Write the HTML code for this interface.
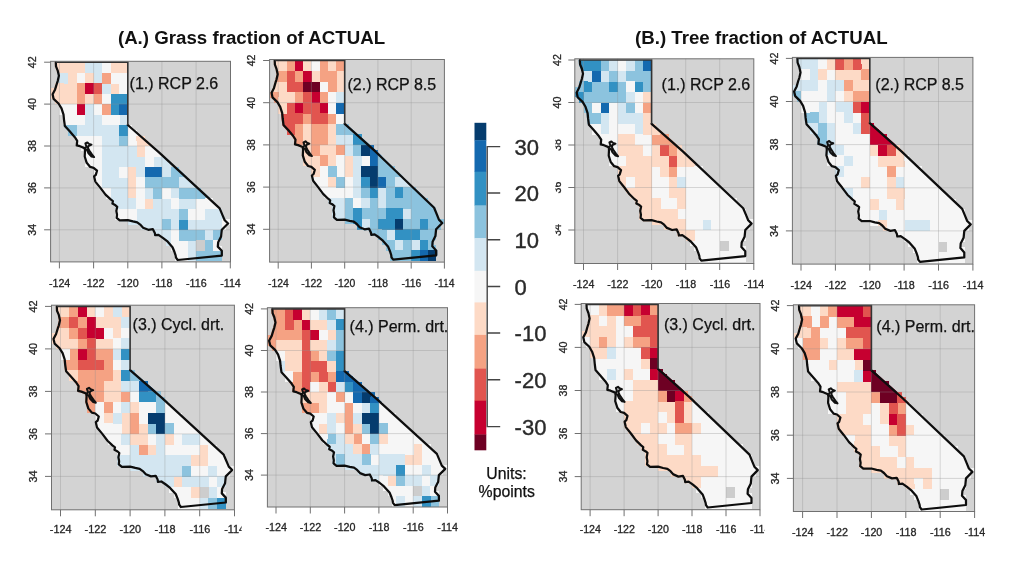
<!DOCTYPE html>
<html lang="en"><head><meta charset="utf-8"><title>Grass and tree fraction maps</title>
<style>html,body{margin:0;padding:0;background:#fff}body{width:1026px;height:565px;overflow:hidden}svg{display:block}text{font-family:"Liberation Sans",Arial,Helvetica,sans-serif}.k{stroke:#262626;stroke-width:.3px}.cb{stroke:#2a2a2a;stroke-width:.4px}.pl{stroke:#111;stroke-width:.25px}</style></head><body>
<svg width="1026" height="565" viewBox="0 0 1026 565">
<rect width="1026" height="565" fill="#fff"/>
<text x="251.5" y="44" text-anchor="middle" font-size="18.7" font-weight="bold" fill="#111">(A.) Grass fraction of ACTUAL</text>
<text x="761.3" y="43.6" text-anchor="middle" font-size="18.7" font-weight="bold" fill="#111">(B.) Tree fraction of ACTUAL</text>
<g font-size="10.69" fill="#262626">
<rect x="50.6" y="61.3" width="179.9" height="200.6" fill="#d3d3d3"/>
<mask id="m1" maskUnits="userSpaceOnUse" x="50.6" y="61.3" width="179.9" height="200.6"><path d="M55.8 62.2L56.0 66.4L57.7 70.6L58.9 75.8L57.7 81.1L56.7 84.2L55.1 89.4L52.6 94.3L53.6 98.9L58.5 103.5L61.5 108.3L63.5 114.6L64.0 119.8L64.9 126.1L69.7 131.3L74.8 137.2L77.2 140.8L76.7 145.4L79.9 146.2L84.5 148.1L85.0 150.6L84.7 156.5L86.7 162.8L90.2 166.9L93.6 167.8L97.0 170.7L95.8 174.9L94.1 176.4L95.3 181.6L100.4 187.9L105.5 194.6L110.7 199.4L112.9 201.1L112.4 203.6L115.5 205.3L117.2 206.8L116.3 210.9L117.0 214.7L116.7 217.9L119.7 220.4L127.8 220.2L132.9 221.4L137.2 222.3L140.2 224.6L143.1 227.7L148.3 229.8L152.9 229.2L154.8 232.9L155.1 235.2L158.5 234.8L162.8 237.8L167.1 241.1L172.5 247.2L174.4 251.8L175.6 255.4L176.0 257.7L177.7 260.0L221.8 255.6L221.8 250.8L217.8 246.6L218.2 242.2L221.1 236.5L221.8 229.8L228.1 223.5L224.7 220.2L222.4 214.9L219.7 208.4L159.0 152.3L127.8 125.0L127.8 62.2Z" fill="#fff" stroke="#fff" stroke-width="2.4" stroke-linejoin="round"/></mask>
<g mask="url(#m1)" shape-rendering="crispEdges">
<path fill="#fddac6" d="M50.9 62.2h34.5v10.8h-34.5zM110.7 62.2h17.4v10.8h-17.4zM67.9 72.7h8.8v10.8h-8.8zM85.0 72.7h8.8v10.8h-8.8zM50.9 83.2h25.9v10.8h-25.9zM110.7 83.2h8.8v10.8h-8.8zM50.9 93.6h25.9v10.8h-25.9zM85.0 93.6h8.8v10.8h-8.8zM136.3 135.5h17.4v10.8h-17.4zM136.3 146.0h8.8v10.8h-8.8zM127.8 166.9h8.8v10.8h-8.8zM127.8 177.4h8.8v10.8h-8.8zM127.8 187.9h8.8v10.8h-8.8zM144.8 198.4h8.8v10.8h-8.8z"/>
<path fill="#d3e6f1" d="M85.0 62.2h17.4v10.8h-17.4zM50.9 72.7h17.4v10.8h-17.4zM93.6 72.7h8.8v10.8h-8.8zM102.1 83.2h8.8v10.8h-8.8zM85.0 104.1h8.8v10.8h-8.8zM85.0 114.6h17.4v10.8h-17.4zM119.2 114.6h8.8v10.8h-8.8zM76.5 125.0h43.0v10.8h-43.0zM102.1 135.5h17.4v10.8h-17.4zM102.1 146.0h34.5v10.8h-34.5zM102.1 156.5h43.0v10.8h-43.0zM153.4 156.5h17.4v10.8h-17.4zM102.1 166.9h17.4v10.8h-17.4zM136.3 166.9h8.8v10.8h-8.8zM161.9 166.9h8.8v10.8h-8.8zM102.1 177.4h25.9v10.8h-25.9zM179.0 177.4h17.4v10.8h-17.4zM110.7 187.9h17.4v10.8h-17.4zM144.8 187.9h8.8v10.8h-8.8zM170.5 187.9h8.8v10.8h-8.8zM110.7 198.4h25.9v10.8h-25.9zM153.4 198.4h17.4v10.8h-17.4zM179.0 198.4h17.4v10.8h-17.4zM136.3 208.9h43.0v10.8h-43.0zM204.7 208.9h25.9v10.8h-25.9zM119.2 219.3h43.0v10.8h-43.0zM170.5 219.3h8.8v10.8h-8.8zM187.6 219.3h34.5v10.8h-34.5zM127.8 229.8h43.0v10.8h-43.0zM204.7 229.8h8.8v10.8h-8.8zM144.8 240.3h25.9v10.8h-25.9zM187.6 240.3h8.8v10.8h-8.8zM187.6 250.8h8.8v10.8h-8.8z"/>
<path fill="#f6f6f6" d="M102.1 62.2h8.8v10.8h-8.8zM76.5 72.7h8.8v10.8h-8.8zM110.7 72.7h17.4v10.8h-17.4zM119.2 83.2h8.8v10.8h-8.8zM102.1 93.6h8.8v10.8h-8.8zM50.9 104.1h25.9v10.8h-25.9zM93.6 104.1h8.8v10.8h-8.8zM59.4 114.6h25.9v10.8h-25.9zM102.1 114.6h17.4v10.8h-17.4zM127.8 125.0h17.4v10.8h-17.4zM67.9 135.5h34.5v10.8h-34.5zM127.8 135.5h8.8v10.8h-8.8zM67.9 146.0h34.5v10.8h-34.5zM144.8 146.0h17.4v10.8h-17.4zM76.5 156.5h25.9v10.8h-25.9zM144.8 156.5h8.8v10.8h-8.8zM76.5 166.9h25.9v10.8h-25.9zM119.2 166.9h8.8v10.8h-8.8zM85.0 177.4h17.4v10.8h-17.4zM136.3 177.4h8.8v10.8h-8.8zM85.0 187.9h25.9v10.8h-25.9zM136.3 187.9h8.8v10.8h-8.8zM161.9 187.9h8.8v10.8h-8.8zM93.6 198.4h17.4v10.8h-17.4zM136.3 198.4h8.8v10.8h-8.8zM170.5 198.4h8.8v10.8h-8.8zM196.1 198.4h25.9v10.8h-25.9zM102.1 208.9h34.5v10.8h-34.5zM187.6 208.9h17.4v10.8h-17.4zM102.1 219.3h17.4v10.8h-17.4zM221.8 219.3h8.8v10.8h-8.8zM110.7 229.8h17.4v10.8h-17.4zM170.5 229.8h8.8v10.8h-8.8zM221.8 229.8h8.8v10.8h-8.8zM170.5 240.3h17.4v10.8h-17.4zM213.2 240.3h17.4v10.8h-17.4zM153.4 250.8h34.5v10.8h-34.5z"/>
<path fill="#f5a283" d="M102.1 72.7h8.8v10.8h-8.8zM76.5 83.2h8.8v10.8h-8.8zM76.5 93.6h8.8v10.8h-8.8zM93.6 93.6h8.8v10.8h-8.8zM102.1 104.1h8.8v10.8h-8.8z"/>
<path fill="#c60030" d="M85.0 83.2h8.8v10.8h-8.8zM76.5 104.1h8.8v10.8h-8.8z"/>
<path fill="#e1554f" d="M93.6 83.2h8.8v10.8h-8.8z"/>
<path fill="#3291c3" d="M110.7 93.6h17.4v10.8h-17.4zM110.7 104.1h8.8v10.8h-8.8zM119.2 125.0h8.8v10.8h-8.8zM179.0 219.3h8.8v10.8h-8.8z"/>
<path fill="#1469af" d="M119.2 104.1h8.8v10.8h-8.8zM144.8 166.9h17.4v10.8h-17.4z"/>
<path fill="#8cc3de" d="M59.4 125.0h17.4v10.8h-17.4zM119.2 135.5h8.8v10.8h-8.8zM170.5 166.9h17.4v10.8h-17.4zM144.8 177.4h34.5v10.8h-34.5zM153.4 187.9h8.8v10.8h-8.8zM179.0 187.9h34.5v10.8h-34.5zM179.0 208.9h8.8v10.8h-8.8zM161.9 219.3h8.8v10.8h-8.8zM179.0 229.8h25.9v10.8h-25.9zM213.2 229.8h8.8v10.8h-8.8zM204.7 240.3h8.8v10.8h-8.8zM196.1 250.8h34.5v10.8h-34.5z"/>
<path fill="#cdcdcd" d="M196.1 240.3h8.8v10.8h-8.8z"/>
</g>
<g shape-rendering="crispEdges">
<path fill="#fddac6" d="M59.4 62.2h4.5v5.4h-4.5zM63.7 62.2h4.5v5.4h-4.5zM59.4 67.4h4.5v5.4h-4.5zM67.9 62.2h4.5v5.4h-4.5zM72.2 62.2h4.5v5.4h-4.5zM76.5 62.2h4.5v5.4h-4.5zM80.8 62.2h4.5v5.4h-4.5zM110.7 62.2h4.5v5.4h-4.5zM114.9 62.2h4.5v5.4h-4.5zM119.2 62.2h4.5v5.4h-4.5zM123.5 62.2h4.5v5.4h-4.5zM123.5 67.4h4.5v5.4h-4.5zM55.1 83.2h4.5v5.4h-4.5zM50.9 88.4h4.5v5.4h-4.5zM55.1 88.4h4.5v5.4h-4.5zM59.4 83.2h4.5v5.4h-4.5zM50.9 93.6h4.5v5.4h-4.5zM55.1 93.6h4.5v5.4h-4.5zM55.1 98.9h4.5v5.4h-4.5zM59.4 98.9h4.5v5.4h-4.5zM136.3 135.5h4.5v5.4h-4.5zM140.6 135.5h4.5v5.4h-4.5zM140.6 140.8h4.5v5.4h-4.5z"/>
<path fill="#d3e6f1" d="M85.0 62.2h4.5v5.4h-4.5zM89.3 62.2h4.5v5.4h-4.5zM93.6 62.2h4.5v5.4h-4.5zM97.9 62.2h4.5v5.4h-4.5zM59.4 72.7h4.5v5.4h-4.5zM59.4 77.9h4.5v5.4h-4.5zM123.5 114.6h4.5v5.4h-4.5zM123.5 119.8h4.5v5.4h-4.5zM157.7 156.5h4.5v5.4h-4.5zM102.1 182.7h4.5v5.4h-4.5zM179.0 177.4h4.5v5.4h-4.5zM183.3 177.4h4.5v5.4h-4.5zM110.7 193.1h4.5v5.4h-4.5zM110.7 198.4h4.5v5.4h-4.5zM114.9 198.4h4.5v5.4h-4.5zM114.9 203.6h4.5v5.4h-4.5zM119.2 203.6h4.5v5.4h-4.5zM213.2 208.9h4.5v5.4h-4.5zM217.5 208.9h4.5v5.4h-4.5zM217.5 214.1h4.5v5.4h-4.5zM127.8 219.3h4.5v5.4h-4.5zM132.0 219.3h4.5v5.4h-4.5zM136.3 219.3h4.5v5.4h-4.5zM140.6 219.3h4.5v5.4h-4.5zM140.6 224.6h4.5v5.4h-4.5zM144.8 224.6h4.5v5.4h-4.5zM149.1 224.6h4.5v5.4h-4.5zM153.4 224.6h4.5v5.4h-4.5zM217.5 219.3h4.5v5.4h-4.5zM217.5 224.6h4.5v5.4h-4.5zM153.4 229.8h4.5v5.4h-4.5zM157.7 229.8h4.5v5.4h-4.5zM161.9 229.8h4.5v5.4h-4.5zM161.9 235.0h4.5v5.4h-4.5zM166.2 235.0h4.5v5.4h-4.5zM166.2 240.3h4.5v5.4h-4.5zM187.6 250.8h4.5v5.4h-4.5zM191.8 250.8h4.5v5.4h-4.5zM187.6 256.0h4.5v5.4h-4.5zM191.8 256.0h4.5v5.4h-4.5z"/>
<path fill="#f6f6f6" d="M102.1 62.2h4.5v5.4h-4.5zM106.4 62.2h4.5v5.4h-4.5zM123.5 72.7h4.5v5.4h-4.5zM123.5 77.9h4.5v5.4h-4.5zM123.5 83.2h4.5v5.4h-4.5zM123.5 88.4h4.5v5.4h-4.5zM59.4 104.1h4.5v5.4h-4.5zM63.7 104.1h4.5v5.4h-4.5zM59.4 109.3h4.5v5.4h-4.5zM63.7 109.3h4.5v5.4h-4.5zM127.8 125.0h4.5v5.4h-4.5zM127.8 130.3h4.5v5.4h-4.5zM132.0 130.3h4.5v5.4h-4.5zM76.5 135.5h4.5v5.4h-4.5zM76.5 140.8h4.5v5.4h-4.5zM80.8 140.8h4.5v5.4h-4.5zM85.0 140.8h4.5v5.4h-4.5zM80.8 146.0h4.5v5.4h-4.5zM85.0 146.0h4.5v5.4h-4.5zM85.0 151.2h4.5v5.4h-4.5zM144.8 146.0h4.5v5.4h-4.5zM149.1 146.0h4.5v5.4h-4.5zM85.0 156.5h4.5v5.4h-4.5zM85.0 161.7h4.5v5.4h-4.5zM89.3 161.7h4.5v5.4h-4.5zM93.6 161.7h4.5v5.4h-4.5zM93.6 166.9h4.5v5.4h-4.5zM97.9 166.9h4.5v5.4h-4.5zM93.6 172.2h4.5v5.4h-4.5zM97.9 172.2h4.5v5.4h-4.5zM93.6 177.4h4.5v5.4h-4.5zM97.9 177.4h4.5v5.4h-4.5zM97.9 182.7h4.5v5.4h-4.5zM102.1 187.9h4.5v5.4h-4.5zM106.4 187.9h4.5v5.4h-4.5zM106.4 193.1h4.5v5.4h-4.5zM204.7 198.4h4.5v5.4h-4.5zM208.9 198.4h4.5v5.4h-4.5zM208.9 203.6h4.5v5.4h-4.5zM114.9 208.9h4.5v5.4h-4.5zM114.9 214.1h4.5v5.4h-4.5zM119.2 208.9h4.5v5.4h-4.5zM119.2 214.1h4.5v5.4h-4.5zM123.5 214.1h4.5v5.4h-4.5zM127.8 214.1h4.5v5.4h-4.5zM132.0 214.1h4.5v5.4h-4.5zM221.8 219.3h4.5v5.4h-4.5zM226.0 219.3h4.5v5.4h-4.5zM221.8 224.6h4.5v5.4h-4.5zM170.5 240.3h4.5v5.4h-4.5zM170.5 245.5h4.5v5.4h-4.5zM174.8 245.5h4.5v5.4h-4.5zM213.2 240.3h4.5v5.4h-4.5zM213.2 245.5h4.5v5.4h-4.5zM217.5 245.5h4.5v5.4h-4.5zM174.8 250.8h4.5v5.4h-4.5zM174.8 256.0h4.5v5.4h-4.5zM179.0 256.0h4.5v5.4h-4.5zM183.3 256.0h4.5v5.4h-4.5z"/>
<path fill="#3291c3" d="M123.5 93.6h4.5v5.4h-4.5zM123.5 98.9h4.5v5.4h-4.5zM123.5 125.0h4.5v5.4h-4.5z"/>
<path fill="#1469af" d="M123.5 104.1h4.5v5.4h-4.5zM123.5 109.3h4.5v5.4h-4.5z"/>
<path fill="#8cc3de" d="M67.9 125.0h4.5v5.4h-4.5zM67.9 130.3h4.5v5.4h-4.5zM72.2 130.3h4.5v5.4h-4.5zM170.5 166.9h4.5v5.4h-4.5zM174.8 166.9h4.5v5.4h-4.5zM174.8 172.2h4.5v5.4h-4.5zM191.8 187.9h4.5v5.4h-4.5zM196.1 187.9h4.5v5.4h-4.5zM196.1 193.1h4.5v5.4h-4.5zM200.4 193.1h4.5v5.4h-4.5zM217.5 229.8h4.5v5.4h-4.5zM213.2 235.0h4.5v5.4h-4.5zM217.5 235.0h4.5v5.4h-4.5zM196.1 250.8h4.5v5.4h-4.5zM200.4 250.8h4.5v5.4h-4.5zM196.1 256.0h4.5v5.4h-4.5zM200.4 256.0h4.5v5.4h-4.5zM204.7 250.8h4.5v5.4h-4.5zM208.9 250.8h4.5v5.4h-4.5zM204.7 256.0h4.5v5.4h-4.5zM208.9 256.0h4.5v5.4h-4.5zM213.2 250.8h4.5v5.4h-4.5zM217.5 250.8h4.5v5.4h-4.5zM213.2 256.0h4.5v5.4h-4.5zM217.5 256.0h4.5v5.4h-4.5z"/>
</g>
<path d="M59.4 61.3V261.9M93.6 61.3V261.9M127.8 61.3V261.9M161.9 61.3V261.9M196.1 61.3V261.9M50.6 229.8H230.5M50.6 187.9H230.5M50.6 146.0H230.5M50.6 104.1H230.5" stroke="#909090" stroke-opacity="0.42" stroke-width="0.8" fill="none"/>
<path d="M55.8 62.2L56.0 66.4L57.7 70.6L58.9 75.8L57.7 81.1L56.7 84.2L55.1 89.4L52.6 94.3L53.6 98.9L58.5 103.5L61.5 108.3L63.5 114.6L64.0 119.8L64.9 126.1L69.7 131.3L74.8 137.2L77.2 140.8L76.7 145.4L79.9 146.2L84.5 148.1L85.0 150.6L84.7 156.5L86.7 162.8L90.2 166.9L93.6 167.8L97.0 170.7L95.8 174.9L94.1 176.4L95.3 181.6L100.4 187.9L105.5 194.6L110.7 199.4L112.9 201.1L112.4 203.6L115.5 205.3L117.2 206.8L116.3 210.9L117.0 214.7L116.7 217.9L119.7 220.4L127.8 220.2L132.9 221.4L137.2 222.3L140.2 224.6L143.1 227.7L148.3 229.8L152.9 229.2L154.8 232.9L155.1 235.2L158.5 234.8L162.8 237.8L167.1 241.1L172.5 247.2L174.4 251.8L175.6 255.4L176.0 257.7L177.7 260.0L221.8 255.6L221.8 250.8L217.8 246.6L218.2 242.2L221.1 236.5L221.8 229.8L228.1 223.5L224.7 220.2L222.4 214.9L219.7 208.4L159.0 152.3L127.8 125.0" stroke="#0d0d0d" stroke-width="2.25" fill="none" stroke-linejoin="round" stroke-linecap="round"/>
<path d="M127.8 125.0L127.8 62.2L55.8 62.2" stroke="#333" stroke-width="1.6" fill="none" stroke-linejoin="miter"/>
<path d="M85.0 148.9L86.4 146.4L85.4 143.5L87.4 142.4L89.0 143.9L91.5 144.7L88.5 146.0L87.9 148.1L89.3 150.6L91.9 154.4L94.1 157.1L91.5 156.5L88.5 153.3L87.1 150.2L85.0 148.9" stroke="#111" stroke-width="2" fill="none" stroke-linejoin="round"/>
<rect x="50.6" y="61.3" width="179.9" height="200.6" fill="none" stroke="#707070" stroke-width="1"/>
<path d="M59.4 261.9v6.5M93.6 261.9v6.5M127.8 261.9v6.5M161.9 261.9v6.5M196.1 261.9v6.5M230.3 261.9v6.5M50.6 229.8h-6.5M50.6 187.9h-6.5M50.6 146.0h-6.5M50.6 104.1h-6.5M50.6 62.2h-6.5" stroke="#707070" stroke-width="1" fill="none"/>
<clipPath id="b1"><rect x="50.6" y="61.3" width="179.9" height="200.6"/></clipPath>
<text x="59.6" y="287.4" class="k" text-anchor="middle">-124</text>
<text x="93.8" y="287.4" class="k" text-anchor="middle">-122</text>
<text x="128.0" y="287.4" class="k" text-anchor="middle">-120</text>
<text x="162.1" y="287.4" class="k" text-anchor="middle">-118</text>
<text x="196.3" y="287.4" class="k" text-anchor="middle">-116</text>
<text x="230.5" y="287.4" class="k" text-anchor="middle">-114</text>
<text transform="translate(36.3 229.8) rotate(-90)" class="k" text-anchor="middle">34</text>
<text transform="translate(36.3 187.9) rotate(-90)" class="k" text-anchor="middle">36</text>
<text transform="translate(36.3 146.0) rotate(-90)" class="k" text-anchor="middle">38</text>
<text transform="translate(36.3 104.1) rotate(-90)" class="k" text-anchor="middle">40</text>
<text transform="translate(36.3 62.2) rotate(-90)" class="k" text-anchor="middle">42</text>
<text x="129.6" y="89" font-size="16" fill="#111" class="pl" clip-path="url(#b1)">(1.) RCP 2.6</text>
</g>
<g font-size="10.40" fill="#262626">
<rect x="269.6" y="59.5" width="174.8" height="202.6" fill="#d3d3d3"/>
<mask id="m2" maskUnits="userSpaceOnUse" x="269.6" y="59.5" width="174.8" height="202.6"><path d="M274.7 60.5L274.9 64.7L276.5 68.9L277.7 74.2L276.5 79.5L275.5 82.7L274.0 87.9L271.6 92.8L272.5 97.4L277.4 102.1L280.2 106.9L282.2 113.2L282.7 118.5L283.5 124.9L288.2 130.1L293.2 136.0L295.5 139.6L295.0 144.3L298.1 145.1L302.6 147.0L303.1 149.5L302.8 155.4L304.8 161.8L308.1 166.0L311.4 166.8L314.8 169.8L313.6 174.0L311.9 175.5L313.1 180.8L318.1 187.1L323.1 193.9L328.1 198.7L330.2 200.4L329.7 202.9L332.7 204.6L334.4 206.1L333.5 210.3L334.2 214.1L333.9 217.3L336.9 219.8L344.7 219.6L349.7 220.9L353.8 221.7L356.8 224.0L359.6 227.2L364.6 229.3L369.1 228.7L370.9 232.5L371.3 234.8L374.6 234.4L378.8 237.3L382.9 240.7L388.2 246.8L390.1 251.5L391.2 255.0L391.5 257.4L393.2 259.7L436.1 255.3L436.1 250.4L432.3 246.2L432.6 241.7L435.4 236.1L436.1 229.3L442.2 223.0L438.9 219.6L436.8 214.3L434.1 207.8L375.1 151.2L344.7 123.8L344.7 60.5Z" fill="#fff" stroke="#fff" stroke-width="2.4" stroke-linejoin="round"/></mask>
<g mask="url(#m2)" shape-rendering="crispEdges">
<path fill="#fddac6" d="M269.9 60.5h16.9v10.8h-16.9zM303.1 60.5h8.6v10.8h-8.6zM328.1 60.5h8.6v10.8h-8.6zM311.4 71.0h8.6v10.8h-8.6zM336.4 71.0h8.6v10.8h-8.6zM269.9 81.6h16.9v10.8h-16.9zM336.4 81.6h8.6v10.8h-8.6zM278.2 92.2h16.9v10.8h-16.9zM269.9 102.7h16.9v10.8h-16.9zM303.1 123.8h8.6v10.9h-8.6zM328.1 123.8h8.6v10.9h-8.6zM303.1 134.4h8.6v10.9h-8.6zM328.1 134.4h8.6v10.9h-8.6zM294.8 144.9h16.9v10.9h-16.9zM319.8 144.9h16.9v10.9h-16.9zM294.8 155.4h25.2v10.9h-25.2zM328.1 155.4h8.6v10.9h-8.6zM344.7 155.4h8.6v10.9h-8.6zM303.1 166.0h16.9v10.9h-16.9zM344.7 166.0h8.6v10.9h-8.6zM328.1 176.6h8.6v10.9h-8.6z"/>
<path fill="#f5a283" d="M286.5 60.5h8.6v10.8h-8.6zM319.8 60.5h8.6v10.8h-8.6zM336.4 60.5h8.6v10.8h-8.6zM269.9 71.0h16.9v10.8h-16.9zM294.8 71.0h8.6v10.8h-8.6zM319.8 71.0h16.9v10.8h-16.9zM328.1 81.6h8.6v10.8h-8.6zM269.9 92.2h8.6v10.8h-8.6zM294.8 92.2h8.6v10.8h-8.6zM319.8 92.2h8.6v10.8h-8.6zM303.1 113.2h8.6v10.8h-8.6zM328.1 113.2h8.6v10.8h-8.6zM294.8 123.8h8.6v10.9h-8.6zM311.4 123.8h16.9v10.9h-16.9zM286.5 134.4h16.9v10.9h-16.9zM311.4 134.4h16.9v10.9h-16.9zM311.4 144.9h8.6v10.9h-8.6zM336.4 144.9h8.6v10.9h-8.6zM319.8 155.4h8.6v10.9h-8.6z"/>
<path fill="#c60030" d="M294.8 60.5h8.6v10.8h-8.6zM303.1 71.0h8.6v10.8h-8.6zM311.4 92.2h8.6v10.8h-8.6zM294.8 102.7h8.6v10.8h-8.6zM319.8 102.7h8.6v10.8h-8.6z"/>
<path fill="#f6f6f6" d="M311.4 60.5h8.6v10.8h-8.6zM319.8 81.6h8.6v10.8h-8.6zM328.1 92.2h8.6v10.8h-8.6zM328.1 102.7h8.6v10.8h-8.6zM336.4 113.2h8.6v10.8h-8.6zM336.4 155.4h8.6v10.9h-8.6zM361.3 155.4h8.6v10.9h-8.6zM319.8 166.0h8.6v10.9h-8.6zM336.4 166.0h8.6v10.9h-8.6zM303.1 176.6h25.2v10.9h-25.2zM344.7 176.6h8.6v10.9h-8.6zM311.4 187.1h41.9v10.9h-41.9zM311.4 197.7h16.9v10.9h-16.9zM353.0 197.7h8.6v10.9h-8.6z"/>
<path fill="#e1554f" d="M286.5 71.0h8.6v10.8h-8.6zM286.5 81.6h16.9v10.8h-16.9zM303.1 92.2h8.6v10.8h-8.6zM286.5 102.7h8.6v10.8h-8.6zM303.1 102.7h16.9v10.8h-16.9zM278.2 113.2h25.2v10.8h-25.2zM311.4 113.2h16.9v10.8h-16.9zM278.2 123.8h16.9v10.9h-16.9z"/>
<path fill="#6e0023" d="M303.1 81.6h16.9v10.8h-16.9z"/>
<path fill="#d3e6f1" d="M336.4 92.2h8.6v10.8h-8.6zM336.4 134.4h16.9v10.9h-16.9zM344.7 144.9h8.6v10.9h-8.6zM353.0 155.4h8.6v10.9h-8.6zM353.0 166.0h8.6v10.9h-8.6zM353.0 176.6h8.6v10.9h-8.6zM394.5 176.6h16.9v10.9h-16.9zM353.0 187.1h8.6v10.9h-8.6zM377.9 187.1h8.6v10.9h-8.6zM328.1 197.7h16.9v10.9h-16.9zM361.3 197.7h8.6v10.9h-8.6zM377.9 197.7h8.6v10.9h-8.6zM319.8 208.2h25.2v10.9h-25.2zM402.9 208.2h8.6v10.9h-8.6zM319.8 218.8h25.2v10.9h-25.2zM361.3 218.8h8.6v10.9h-8.6zM328.1 229.3h25.2v10.9h-25.2zM386.2 229.3h8.6v10.9h-8.6zM394.5 239.9h8.6v10.9h-8.6zM411.2 239.9h8.6v10.9h-8.6z"/>
<path fill="#1469af" d="M336.4 102.7h8.6v10.8h-8.6zM369.6 144.9h16.9v10.9h-16.9zM369.6 155.4h8.6v10.9h-8.6zM377.9 176.6h8.6v10.9h-8.6zM419.5 250.4h8.6v10.8h-8.6z"/>
<path fill="#8cc3de" d="M336.4 123.8h25.2v10.9h-25.2zM353.0 144.9h8.6v10.9h-8.6zM377.9 155.4h16.9v10.9h-16.9zM328.1 166.0h8.6v10.9h-8.6zM377.9 166.0h25.2v10.9h-25.2zM336.4 176.6h8.6v10.9h-8.6zM386.2 176.6h8.6v10.9h-8.6zM361.3 187.1h8.6v10.9h-8.6zM386.2 187.1h8.6v10.9h-8.6zM402.9 187.1h25.2v10.9h-25.2zM344.7 197.7h8.6v10.9h-8.6zM369.6 197.7h8.6v10.9h-8.6zM386.2 197.7h50.2v10.9h-50.2zM344.7 208.2h8.6v10.9h-8.6zM361.3 208.2h25.2v10.9h-25.2zM411.2 208.2h33.5v10.9h-33.5zM344.7 218.8h8.6v10.9h-8.6zM369.6 218.8h8.6v10.9h-8.6zM402.9 218.8h16.9v10.9h-16.9zM427.8 218.8h16.9v10.9h-16.9zM353.0 229.3h33.5v10.9h-33.5zM419.5 229.3h25.2v10.9h-25.2zM361.3 239.9h33.5v10.9h-33.5zM402.9 239.9h8.6v10.9h-8.6zM427.8 239.9h16.9v10.9h-16.9zM369.6 250.4h41.9v10.8h-41.9z"/>
<path fill="#3291c3" d="M353.0 134.4h16.9v10.9h-16.9zM361.3 176.6h8.6v10.9h-8.6zM369.6 187.1h8.6v10.9h-8.6zM394.5 187.1h8.6v10.9h-8.6zM353.0 208.2h8.6v10.9h-8.6zM386.2 208.2h16.9v10.9h-16.9zM353.0 218.8h8.6v10.9h-8.6zM377.9 218.8h16.9v10.9h-16.9zM419.5 218.8h8.6v10.9h-8.6zM394.5 229.3h25.2v10.9h-25.2zM419.5 239.9h8.6v10.9h-8.6zM411.2 250.4h8.6v10.8h-8.6z"/>
<path fill="#053c6e" d="M361.3 144.9h8.6v10.9h-8.6zM361.3 166.0h16.9v10.9h-16.9zM369.6 176.6h8.6v10.9h-8.6zM394.5 218.8h8.6v10.9h-8.6zM427.8 250.4h16.9v10.8h-16.9z"/>
</g>
<g shape-rendering="crispEdges">
<path fill="#fddac6" d="M278.2 60.5h4.4v5.5h-4.4zM282.4 60.5h4.4v5.5h-4.4zM278.2 65.8h4.4v5.5h-4.4zM303.1 60.5h4.4v5.5h-4.4zM307.3 60.5h4.4v5.5h-4.4zM328.1 60.5h4.4v5.5h-4.4zM332.2 60.5h4.4v5.5h-4.4zM340.5 71.0h4.4v5.5h-4.4zM340.5 76.3h4.4v5.5h-4.4zM278.2 81.6h4.4v5.5h-4.4zM340.5 81.6h4.4v5.5h-4.4zM340.5 86.9h4.4v5.5h-4.4zM278.2 97.4h4.4v5.5h-4.4zM278.2 102.7h4.4v5.5h-4.4zM282.4 102.7h4.4v5.5h-4.4zM278.2 108.0h4.4v5.5h-4.4zM282.4 108.0h4.4v5.5h-4.4zM303.1 139.6h4.4v5.5h-4.4zM303.1 144.9h4.4v5.5h-4.4zM303.1 150.2h4.4v5.5h-4.4zM303.1 155.4h4.4v5.5h-4.4zM307.3 155.4h4.4v5.5h-4.4zM303.1 160.7h4.4v5.5h-4.4zM307.3 160.7h4.4v5.5h-4.4zM311.4 160.7h4.4v5.5h-4.4zM311.4 166.0h4.4v5.5h-4.4zM315.6 166.0h4.4v5.5h-4.4zM311.4 171.3h4.4v5.5h-4.4zM315.6 171.3h4.4v5.5h-4.4z"/>
<path fill="#f5a283" d="M286.5 60.5h4.4v5.5h-4.4zM290.7 60.5h4.4v5.5h-4.4zM319.8 60.5h4.4v5.5h-4.4zM323.9 60.5h4.4v5.5h-4.4zM336.4 60.5h4.4v5.5h-4.4zM340.5 60.5h4.4v5.5h-4.4zM340.5 65.8h4.4v5.5h-4.4zM278.2 71.0h4.4v5.5h-4.4zM278.2 76.3h4.4v5.5h-4.4zM269.9 92.2h4.4v5.5h-4.4zM274.0 92.2h4.4v5.5h-4.4zM274.0 97.4h4.4v5.5h-4.4zM294.8 134.4h4.4v5.5h-4.4zM294.8 139.6h4.4v5.5h-4.4zM299.0 139.6h4.4v5.5h-4.4z"/>
<path fill="#c60030" d="M294.8 60.5h4.4v5.5h-4.4zM299.0 60.5h4.4v5.5h-4.4z"/>
<path fill="#f6f6f6" d="M311.4 60.5h4.4v5.5h-4.4zM315.6 60.5h4.4v5.5h-4.4zM340.5 113.2h4.4v5.5h-4.4zM340.5 118.5h4.4v5.5h-4.4zM311.4 176.6h4.4v5.5h-4.4zM315.6 176.6h4.4v5.5h-4.4zM315.6 181.8h4.4v5.5h-4.4zM319.8 181.8h4.4v5.5h-4.4zM319.8 187.1h4.4v5.5h-4.4zM323.9 187.1h4.4v5.5h-4.4zM323.9 192.4h4.4v5.5h-4.4zM328.1 192.4h4.4v5.5h-4.4z"/>
<path fill="#d3e6f1" d="M340.5 92.2h4.4v5.5h-4.4zM340.5 97.4h4.4v5.5h-4.4zM394.5 176.6h4.4v5.5h-4.4zM398.7 176.6h4.4v5.5h-4.4zM328.1 197.7h4.4v5.5h-4.4zM332.2 197.7h4.4v5.5h-4.4zM332.2 202.9h4.4v5.5h-4.4zM336.4 202.9h4.4v5.5h-4.4zM332.2 208.2h4.4v5.5h-4.4zM332.2 213.5h4.4v5.5h-4.4zM336.4 208.2h4.4v5.5h-4.4zM336.4 213.5h4.4v5.5h-4.4zM340.5 213.5h4.4v5.5h-4.4zM361.3 224.0h4.4v5.5h-4.4zM365.5 224.0h4.4v5.5h-4.4z"/>
<path fill="#1469af" d="M340.5 102.7h4.4v5.5h-4.4zM340.5 108.0h4.4v5.5h-4.4zM369.6 144.9h4.4v5.5h-4.4zM369.6 150.2h4.4v5.5h-4.4zM373.8 150.2h4.4v5.5h-4.4zM373.8 155.4h4.4v5.5h-4.4zM419.5 250.4h4.4v5.5h-4.4zM423.6 250.4h4.4v5.5h-4.4zM419.5 255.7h4.4v5.5h-4.4zM423.6 255.7h4.4v5.5h-4.4z"/>
<path fill="#e1554f" d="M286.5 123.8h4.4v5.5h-4.4zM286.5 129.1h4.4v5.5h-4.4zM290.7 129.1h4.4v5.5h-4.4z"/>
<path fill="#8cc3de" d="M340.5 123.8h4.4v5.5h-4.4zM344.7 123.8h4.4v5.5h-4.4zM344.7 129.1h4.4v5.5h-4.4zM348.8 129.1h4.4v5.5h-4.4zM377.9 155.4h4.4v5.5h-4.4zM377.9 160.7h4.4v5.5h-4.4zM382.1 160.7h4.4v5.5h-4.4zM386.2 166.0h4.4v5.5h-4.4zM390.4 166.0h4.4v5.5h-4.4zM390.4 171.3h4.4v5.5h-4.4zM407.0 187.1h4.4v5.5h-4.4zM411.2 187.1h4.4v5.5h-4.4zM411.2 192.4h4.4v5.5h-4.4zM415.3 192.4h4.4v5.5h-4.4zM419.5 197.7h4.4v5.5h-4.4zM423.6 197.7h4.4v5.5h-4.4zM423.6 202.9h4.4v5.5h-4.4zM344.7 213.5h4.4v5.5h-4.4zM348.8 213.5h4.4v5.5h-4.4zM427.8 208.2h4.4v5.5h-4.4zM431.9 208.2h4.4v5.5h-4.4zM431.9 213.5h4.4v5.5h-4.4zM344.7 218.8h4.4v5.5h-4.4zM348.8 218.8h4.4v5.5h-4.4zM369.6 224.0h4.4v5.5h-4.4zM431.9 218.8h4.4v5.5h-4.4zM431.9 224.0h4.4v5.5h-4.4zM436.1 218.8h4.4v5.5h-4.4zM440.2 218.8h4.4v5.5h-4.4zM436.1 224.0h4.4v5.5h-4.4zM369.6 229.3h4.4v5.5h-4.4zM373.8 229.3h4.4v5.5h-4.4zM377.9 229.3h4.4v5.5h-4.4zM377.9 234.6h4.4v5.5h-4.4zM382.1 234.6h4.4v5.5h-4.4zM431.9 229.3h4.4v5.5h-4.4zM427.8 234.6h4.4v5.5h-4.4zM431.9 234.6h4.4v5.5h-4.4zM382.1 239.9h4.4v5.5h-4.4zM386.2 239.9h4.4v5.5h-4.4zM386.2 245.1h4.4v5.5h-4.4zM390.4 245.1h4.4v5.5h-4.4zM427.8 239.9h4.4v5.5h-4.4zM427.8 245.1h4.4v5.5h-4.4zM431.9 245.1h4.4v5.5h-4.4zM390.4 250.4h4.4v5.5h-4.4zM390.4 255.7h4.4v5.5h-4.4zM394.5 255.7h4.4v5.5h-4.4zM398.7 255.7h4.4v5.5h-4.4zM402.9 250.4h4.4v5.5h-4.4zM407.0 250.4h4.4v5.5h-4.4zM402.9 255.7h4.4v5.5h-4.4zM407.0 255.7h4.4v5.5h-4.4z"/>
<path fill="#3291c3" d="M353.0 134.4h4.4v5.5h-4.4zM357.1 134.4h4.4v5.5h-4.4zM357.1 139.6h4.4v5.5h-4.4zM353.0 218.8h4.4v5.5h-4.4zM357.1 218.8h4.4v5.5h-4.4zM357.1 224.0h4.4v5.5h-4.4zM411.2 250.4h4.4v5.5h-4.4zM415.3 250.4h4.4v5.5h-4.4zM411.2 255.7h4.4v5.5h-4.4zM415.3 255.7h4.4v5.5h-4.4z"/>
<path fill="#053c6e" d="M361.3 144.9h4.4v5.5h-4.4zM365.5 144.9h4.4v5.5h-4.4zM427.8 250.4h4.4v5.5h-4.4zM431.9 250.4h4.4v5.5h-4.4zM427.8 255.7h4.4v5.5h-4.4zM431.9 255.7h4.4v5.5h-4.4z"/>
</g>
<path d="M278.2 59.5V262.1M311.4 59.5V262.1M344.7 59.5V262.1M377.9 59.5V262.1M411.2 59.5V262.1M269.6 229.3H444.4M269.6 187.1H444.4M269.6 144.9H444.4M269.6 102.7H444.4" stroke="#909090" stroke-opacity="0.42" stroke-width="0.8" fill="none"/>
<path d="M274.7 60.5L274.9 64.7L276.5 68.9L277.7 74.2L276.5 79.5L275.5 82.7L274.0 87.9L271.6 92.8L272.5 97.4L277.4 102.1L280.2 106.9L282.2 113.2L282.7 118.5L283.5 124.9L288.2 130.1L293.2 136.0L295.5 139.6L295.0 144.3L298.1 145.1L302.6 147.0L303.1 149.5L302.8 155.4L304.8 161.8L308.1 166.0L311.4 166.8L314.8 169.8L313.6 174.0L311.9 175.5L313.1 180.8L318.1 187.1L323.1 193.9L328.1 198.7L330.2 200.4L329.7 202.9L332.7 204.6L334.4 206.1L333.5 210.3L334.2 214.1L333.9 217.3L336.9 219.8L344.7 219.6L349.7 220.9L353.8 221.7L356.8 224.0L359.6 227.2L364.6 229.3L369.1 228.7L370.9 232.5L371.3 234.8L374.6 234.4L378.8 237.3L382.9 240.7L388.2 246.8L390.1 251.5L391.2 255.0L391.5 257.4L393.2 259.7L436.1 255.3L436.1 250.4L432.3 246.2L432.6 241.7L435.4 236.1L436.1 229.3L442.2 223.0L438.9 219.6L436.8 214.3L434.1 207.8L375.1 151.2L344.7 123.8" stroke="#0d0d0d" stroke-width="2.25" fill="none" stroke-linejoin="round" stroke-linecap="round"/>
<path d="M344.7 123.8L344.7 60.5L274.7 60.5" stroke="#333" stroke-width="1.6" fill="none" stroke-linejoin="miter"/>
<path d="M303.1 147.9L304.5 145.3L303.5 142.4L305.5 141.3L307.0 142.8L309.4 143.6L306.5 144.9L306.0 147.0L307.3 149.5L309.8 153.3L311.9 156.1L309.4 155.4L306.5 152.3L305.1 149.1L303.1 147.9" stroke="#111" stroke-width="2" fill="none" stroke-linejoin="round"/>
<rect x="269.6" y="59.5" width="174.8" height="202.6" fill="none" stroke="#707070" stroke-width="1"/>
<path d="M278.2 262.1v6.5M311.4 262.1v6.5M344.7 262.1v6.5M377.9 262.1v6.5M411.2 262.1v6.5M444.4 262.1v6.5M269.6 229.3h-6.5M269.6 187.1h-6.5M269.6 144.9h-6.5M269.6 102.7h-6.5M269.6 60.5h-6.5" stroke="#707070" stroke-width="1" fill="none"/>
<clipPath id="b2"><rect x="269.6" y="59.5" width="174.8" height="202.6"/></clipPath>
<text x="278.4" y="287.4" class="k" text-anchor="middle">-124</text>
<text x="311.6" y="287.4" class="k" text-anchor="middle">-122</text>
<text x="344.9" y="287.4" class="k" text-anchor="middle">-120</text>
<text x="378.1" y="287.4" class="k" text-anchor="middle">-118</text>
<text x="411.4" y="287.4" class="k" text-anchor="middle">-116</text>
<text x="444.6" y="287.4" class="k" text-anchor="middle">-114</text>
<text transform="translate(255.3 229.3) rotate(-90)" class="k" text-anchor="middle">34</text>
<text transform="translate(255.3 187.1) rotate(-90)" class="k" text-anchor="middle">36</text>
<text transform="translate(255.3 144.9) rotate(-90)" class="k" text-anchor="middle">38</text>
<text transform="translate(255.3 102.7) rotate(-90)" class="k" text-anchor="middle">40</text>
<text transform="translate(255.3 60.5) rotate(-90)" class="k" text-anchor="middle">42</text>
<text x="347.5" y="89.5" font-size="16" fill="#111" class="pl" clip-path="url(#b2)">(2.) RCP 8.5</text>
</g>
<g font-size="10.89" fill="#262626">
<rect x="51.5" y="305.2" width="182.9" height="204.6" fill="#d3d3d3"/>
<mask id="m3" maskUnits="userSpaceOnUse" x="51.5" y="305.2" width="182.9" height="204.6"><path d="M56.8 306.4L57.0 310.7L58.8 314.9L60.0 320.2L58.8 325.5L57.7 328.7L56.1 334.0L53.5 338.9L54.6 343.6L59.6 348.3L62.6 353.2L64.7 359.5L65.2 364.8L66.1 371.2L70.9 376.5L76.2 382.5L78.6 386.1L78.1 390.8L81.4 391.6L86.1 393.5L86.6 396.1L86.3 402.0L88.3 408.4L91.8 412.6L95.3 413.5L98.8 416.5L97.6 420.7L95.8 422.2L97.0 427.5L102.3 433.9L107.5 440.7L112.7 445.6L115.0 447.3L114.4 449.8L117.6 451.5L119.3 453.0L118.4 457.3L119.1 461.1L118.8 464.3L121.9 466.8L130.1 466.6L135.3 467.9L139.7 468.8L142.8 471.1L145.8 474.3L151.0 476.4L155.7 475.8L157.6 479.6L157.9 481.9L161.4 481.5L165.8 484.5L170.1 487.9L175.7 494.0L177.6 498.7L178.8 502.3L179.2 504.7L180.9 507.0L225.8 502.5L225.8 497.6L221.8 493.4L222.1 488.9L225.1 483.2L225.8 476.4L232.2 470.0L228.8 466.6L226.5 461.3L223.7 454.7L161.9 397.8L130.1 370.1L130.1 306.4Z" fill="#fff" stroke="#fff" stroke-width="2.4" stroke-linejoin="round"/></mask>
<g mask="url(#m3)" shape-rendering="crispEdges">
<path fill="#fddac6" d="M51.8 306.4h17.7v10.9h-17.7zM86.6 306.4h9.0v10.9h-9.0zM104.0 306.4h9.0v10.9h-9.0zM121.4 306.4h9.0v10.9h-9.0zM95.3 317.0h26.4v10.9h-26.4zM51.8 327.6h17.7v10.9h-17.7zM112.7 327.6h9.0v10.9h-9.0zM51.8 338.3h26.4v10.9h-26.4zM95.3 338.3h17.7v10.9h-17.7zM60.5 370.1h17.7v10.9h-17.7zM112.7 370.1h9.0v10.9h-9.0zM104.0 380.8h17.7v10.9h-17.7zM104.0 391.4h17.7v10.9h-17.7zM130.1 402.0h9.0v10.9h-9.0zM104.0 412.6h9.0v10.9h-9.0zM121.4 412.6h9.0v10.9h-9.0zM121.4 423.3h9.0v10.9h-9.0zM138.8 423.3h9.0v10.9h-9.0zM130.1 433.9h17.7v10.9h-17.7zM164.9 433.9h9.0v10.9h-9.0zM147.5 444.5h9.0v10.9h-9.0zM199.7 444.5h9.0v10.9h-9.0zM191.0 455.1h17.7v10.9h-17.7zM173.6 476.4h9.0v10.9h-9.0zM191.0 487.0h9.0v10.9h-9.0z"/>
<path fill="#f5a283" d="M69.2 306.4h9.0v10.9h-9.0zM51.8 317.0h17.7v10.9h-17.7zM77.9 317.0h9.0v10.9h-9.0zM69.2 327.6h9.0v10.9h-9.0zM77.9 338.3h9.0v10.9h-9.0zM69.2 348.9h9.0v10.9h-9.0zM95.3 348.9h17.7v10.9h-17.7zM60.5 359.5h17.7v10.9h-17.7zM104.0 359.5h9.0v10.9h-9.0zM77.9 370.1h35.1v10.9h-35.1zM69.2 380.8h35.1v10.9h-35.1zM77.9 391.4h26.4v10.9h-26.4zM121.4 391.4h9.0v10.9h-9.0zM77.9 402.0h17.7v10.9h-17.7zM104.0 402.0h9.0v10.9h-9.0zM130.1 412.6h9.0v10.9h-9.0zM130.1 423.3h9.0v10.9h-9.0zM138.8 444.5h9.0v10.9h-9.0z"/>
<path fill="#c60030" d="M77.9 306.4h9.0v10.9h-9.0zM86.6 317.0h9.0v10.9h-9.0zM86.6 327.6h17.7v10.9h-17.7zM77.9 348.9h9.0v10.9h-9.0z"/>
<path fill="#f6f6f6" d="M95.3 306.4h9.0v10.9h-9.0zM104.0 327.6h9.0v10.9h-9.0zM121.4 327.6h9.0v10.9h-9.0zM112.7 338.3h9.0v10.9h-9.0zM51.8 348.9h17.7v10.9h-17.7zM112.7 359.5h9.0v10.9h-9.0zM130.1 391.4h9.0v10.9h-9.0zM95.3 402.0h9.0v10.9h-9.0zM112.7 402.0h9.0v10.9h-9.0zM138.8 402.0h17.7v10.9h-17.7zM164.9 402.0h17.7v10.9h-17.7zM86.6 412.6h17.7v10.9h-17.7zM138.8 412.6h9.0v10.9h-9.0zM164.9 412.6h26.4v10.9h-26.4zM86.6 423.3h35.1v10.9h-35.1zM173.6 423.3h26.4v10.9h-26.4zM95.3 433.9h26.4v10.9h-26.4zM147.5 433.9h9.0v10.9h-9.0zM173.6 433.9h9.0v10.9h-9.0zM199.7 433.9h17.7v10.9h-17.7zM95.3 444.5h35.1v10.9h-35.1zM164.9 444.5h35.1v10.9h-35.1zM208.4 444.5h17.7v10.9h-17.7zM208.4 455.1h26.3v10.9h-26.3zM191.0 465.8h17.7v10.9h-17.7zM217.1 465.8h17.6v10.9h-17.6zM208.4 476.4h9.0v10.9h-9.0zM225.8 476.4h8.9v10.9h-8.9zM164.9 487.0h26.4v10.9h-26.4zM217.1 487.0h17.6v10.9h-17.6zM156.2 497.6h43.8v10.9h-43.8z"/>
<path fill="#d3e6f1" d="M112.7 306.4h9.0v10.9h-9.0zM121.4 317.0h9.0v10.9h-9.0zM121.4 338.3h9.0v10.9h-9.0zM112.7 348.9h9.0v10.9h-9.0zM121.4 359.5h9.0v10.9h-9.0zM121.4 380.8h17.7v10.9h-17.7zM121.4 402.0h9.0v10.9h-9.0zM112.7 412.6h9.0v10.9h-9.0zM121.4 433.9h9.0v10.9h-9.0zM156.2 433.9h9.0v10.9h-9.0zM182.3 433.9h17.7v10.9h-17.7zM130.1 444.5h9.0v10.9h-9.0zM156.2 444.5h9.0v10.9h-9.0zM104.0 455.1h87.3v10.9h-87.3zM104.0 465.8h78.6v10.9h-78.6zM208.4 465.8h9.0v10.9h-9.0zM112.7 476.4h61.2v10.9h-61.2zM182.3 476.4h26.4v10.9h-26.4zM217.1 476.4h9.0v10.9h-9.0zM147.5 487.0h17.7v10.9h-17.7zM208.4 487.0h9.0v10.9h-9.0zM199.7 497.6h9.0v10.9h-9.0z"/>
<path fill="#e1554f" d="M69.2 317.0h9.0v10.9h-9.0zM77.9 327.6h9.0v10.9h-9.0zM86.6 338.3h9.0v10.9h-9.0zM86.6 348.9h9.0v10.9h-9.0zM77.9 359.5h26.4v10.9h-26.4z"/>
<path fill="#3291c3" d="M121.4 348.9h9.0v10.9h-9.0zM121.4 370.1h9.0v10.9h-9.0zM138.8 391.4h17.7v10.9h-17.7zM217.1 497.6h17.6v10.9h-17.6z"/>
<path fill="#8cc3de" d="M130.1 370.1h17.7v10.9h-17.7zM156.2 391.4h17.7v10.9h-17.7zM156.2 402.0h9.0v10.9h-9.0zM147.5 423.3h9.0v10.9h-9.0zM164.9 423.3h9.0v10.9h-9.0zM182.3 465.8h9.0v10.9h-9.0zM208.4 497.6h9.0v10.9h-9.0z"/>
<path fill="#1469af" d="M138.8 380.8h17.7v10.9h-17.7z"/>
<path fill="#053c6e" d="M147.5 412.6h17.7v10.9h-17.7zM156.2 423.3h9.0v10.9h-9.0z"/>
<path fill="#cdcdcd" d="M199.7 487.0h9.0v10.9h-9.0z"/>
</g>
<g shape-rendering="crispEdges">
<path fill="#fddac6" d="M60.5 306.4h4.5v5.5h-4.5zM64.8 306.4h4.5v5.5h-4.5zM60.5 311.7h4.5v5.5h-4.5zM86.6 306.4h4.5v5.5h-4.5zM90.9 306.4h4.5v5.5h-4.5zM104.0 306.4h4.5v5.5h-4.5zM108.3 306.4h4.5v5.5h-4.5zM121.4 306.4h4.5v5.5h-4.5zM125.7 306.4h4.6v5.5h-4.6zM125.7 311.7h4.6v5.5h-4.6zM56.1 327.6h4.6v5.5h-4.6zM51.8 333.0h4.6v5.5h-4.6zM56.1 333.0h4.6v5.5h-4.6zM60.5 327.6h4.5v5.5h-4.5zM51.8 338.3h4.6v5.5h-4.6zM56.1 338.3h4.6v5.5h-4.6zM56.1 343.6h4.6v5.5h-4.6zM60.5 343.6h4.5v5.5h-4.5zM69.2 370.1h4.5v5.5h-4.5zM69.2 375.5h4.5v5.5h-4.5zM73.5 375.5h4.5v5.5h-4.5z"/>
<path fill="#f5a283" d="M69.2 306.4h4.5v5.5h-4.5zM73.5 306.4h4.5v5.5h-4.5zM60.5 317.0h4.5v5.5h-4.5zM60.5 322.3h4.5v5.5h-4.5zM77.9 380.8h4.5v5.5h-4.5zM77.9 386.1h4.5v5.5h-4.5zM82.2 386.1h4.5v5.5h-4.5zM86.6 386.1h4.5v5.5h-4.5zM86.6 391.4h4.5v5.5h-4.5zM86.6 396.7h4.5v5.5h-4.5zM86.6 402.0h4.5v5.5h-4.5zM86.6 407.3h4.5v5.5h-4.5zM90.9 407.3h4.5v5.5h-4.5z"/>
<path fill="#c60030" d="M77.9 306.4h4.5v5.5h-4.5zM82.2 306.4h4.5v5.5h-4.5z"/>
<path fill="#f6f6f6" d="M95.3 306.4h4.5v5.5h-4.5zM99.6 306.4h4.5v5.5h-4.5zM125.7 327.6h4.6v5.5h-4.6zM125.7 333.0h4.6v5.5h-4.6zM60.5 348.9h4.5v5.5h-4.5zM64.8 348.9h4.5v5.5h-4.5zM60.5 354.2h4.5v5.5h-4.5zM64.8 354.2h4.5v5.5h-4.5zM95.3 407.3h4.5v5.5h-4.5zM164.9 402.0h4.5v5.5h-4.5zM169.2 407.3h4.5v5.5h-4.5zM95.3 412.6h4.5v5.5h-4.5zM99.6 412.6h4.5v5.5h-4.5zM95.3 418.0h4.5v5.5h-4.5zM99.6 418.0h4.5v5.5h-4.5zM173.6 412.6h4.5v5.5h-4.5zM177.9 412.6h4.5v5.5h-4.5zM177.9 418.0h4.5v5.5h-4.5zM95.3 423.3h4.5v5.5h-4.5zM99.6 423.3h4.5v5.5h-4.5zM99.6 428.6h4.5v5.5h-4.5zM104.0 428.6h4.5v5.5h-4.5zM182.3 423.3h4.5v5.5h-4.5zM186.6 423.3h4.5v5.5h-4.5zM104.0 433.9h4.5v5.5h-4.5zM108.3 433.9h4.5v5.5h-4.5zM108.3 439.2h4.5v5.5h-4.5zM112.7 439.2h4.5v5.5h-4.5zM199.7 433.9h4.5v5.5h-4.5zM199.7 439.2h4.5v5.5h-4.5zM204.0 439.2h4.5v5.5h-4.5zM112.7 444.5h4.5v5.5h-4.5zM117.0 444.5h4.5v5.5h-4.5zM117.0 449.8h4.5v5.5h-4.5zM121.4 449.8h4.5v5.5h-4.5zM208.4 444.5h4.5v5.5h-4.5zM212.7 444.5h4.5v5.5h-4.5zM212.7 449.8h4.5v5.5h-4.5zM217.1 455.1h4.5v5.5h-4.5zM221.4 455.1h4.5v5.5h-4.5zM221.4 460.5h4.5v5.5h-4.5zM221.4 465.8h4.5v5.5h-4.5zM221.4 471.1h4.5v5.5h-4.5zM225.8 465.8h4.5v5.5h-4.5zM230.1 465.8h4.5v5.5h-4.5zM225.8 471.1h4.5v5.5h-4.5zM169.2 487.0h4.5v5.5h-4.5zM173.6 487.0h4.5v5.5h-4.5zM173.6 492.3h4.5v5.5h-4.5zM177.9 492.3h4.5v5.5h-4.5zM217.1 487.0h4.5v5.5h-4.5zM217.1 492.3h4.5v5.5h-4.5zM221.4 492.3h4.5v5.5h-4.5zM177.9 497.6h4.5v5.5h-4.5zM177.9 503.0h4.5v5.5h-4.5zM182.3 503.0h4.5v5.5h-4.5zM186.6 503.0h4.5v5.5h-4.5zM191.0 497.6h4.5v5.5h-4.5zM195.3 497.6h4.5v5.5h-4.5zM191.0 503.0h4.5v5.5h-4.5zM195.3 503.0h4.5v5.5h-4.5z"/>
<path fill="#d3e6f1" d="M112.7 306.4h4.5v5.5h-4.5zM117.0 306.4h4.5v5.5h-4.5zM125.7 317.0h4.6v5.5h-4.6zM125.7 322.3h4.6v5.5h-4.6zM125.7 338.3h4.6v5.5h-4.6zM125.7 343.6h4.6v5.5h-4.6zM125.7 359.5h4.6v5.5h-4.6zM125.7 364.8h4.6v5.5h-4.6zM195.3 433.9h4.5v5.5h-4.5zM117.0 455.1h4.5v5.5h-4.5zM117.0 460.5h4.5v5.5h-4.5zM121.4 455.1h4.5v5.5h-4.5zM121.4 460.5h4.5v5.5h-4.5zM125.7 460.5h4.6v5.5h-4.6zM130.1 460.5h4.5v5.5h-4.5zM134.4 460.5h4.5v5.5h-4.5zM130.1 465.8h4.5v5.5h-4.5zM134.4 465.8h4.5v5.5h-4.5zM138.8 465.8h4.5v5.5h-4.5zM143.2 465.8h4.5v5.5h-4.5zM143.2 471.1h4.5v5.5h-4.5zM147.5 471.1h4.5v5.5h-4.5zM151.8 471.1h4.5v5.5h-4.5zM156.2 471.1h4.5v5.5h-4.5zM156.2 476.4h4.5v5.5h-4.5zM160.5 476.4h4.5v5.5h-4.5zM164.9 476.4h4.5v5.5h-4.5zM164.9 481.7h4.5v5.5h-4.5zM169.2 481.7h4.5v5.5h-4.5zM221.4 476.4h4.5v5.5h-4.5zM217.1 481.7h4.5v5.5h-4.5zM221.4 481.7h4.5v5.5h-4.5zM199.7 497.6h4.5v5.5h-4.5zM204.0 497.6h4.5v5.5h-4.5zM199.7 503.0h4.5v5.5h-4.5zM204.0 503.0h4.5v5.5h-4.5z"/>
<path fill="#3291c3" d="M125.7 348.9h4.6v5.5h-4.6zM125.7 354.2h4.6v5.5h-4.6zM125.7 370.1h4.6v5.5h-4.6zM147.5 391.4h4.5v5.5h-4.5zM151.8 391.4h4.5v5.5h-4.5zM217.1 497.6h4.5v5.5h-4.5zM221.4 497.6h4.5v5.5h-4.5zM217.1 503.0h4.5v5.5h-4.5zM221.4 503.0h4.5v5.5h-4.5z"/>
<path fill="#8cc3de" d="M130.1 370.1h4.5v5.5h-4.5zM130.1 375.5h4.5v5.5h-4.5zM134.4 375.5h4.5v5.5h-4.5zM156.2 391.4h4.5v5.5h-4.5zM156.2 396.7h4.5v5.5h-4.5zM160.5 396.7h4.5v5.5h-4.5zM160.5 402.0h4.5v5.5h-4.5zM208.4 497.6h4.5v5.5h-4.5zM212.7 497.6h4.5v5.5h-4.5zM208.4 503.0h4.5v5.5h-4.5zM212.7 503.0h4.5v5.5h-4.5z"/>
<path fill="#1469af" d="M138.8 380.8h4.5v5.5h-4.5zM143.2 380.8h4.5v5.5h-4.5zM143.2 386.1h4.5v5.5h-4.5z"/>
</g>
<path d="M60.5 305.2V509.8M95.3 305.2V509.8M130.1 305.2V509.8M164.9 305.2V509.8M199.7 305.2V509.8M51.5 476.4H234.4M51.5 433.9H234.4M51.5 391.4H234.4M51.5 348.9H234.4" stroke="#909090" stroke-opacity="0.42" stroke-width="0.8" fill="none"/>
<path d="M56.8 306.4L57.0 310.7L58.8 314.9L60.0 320.2L58.8 325.5L57.7 328.7L56.1 334.0L53.5 338.9L54.6 343.6L59.6 348.3L62.6 353.2L64.7 359.5L65.2 364.8L66.1 371.2L70.9 376.5L76.2 382.5L78.6 386.1L78.1 390.8L81.4 391.6L86.1 393.5L86.6 396.1L86.3 402.0L88.3 408.4L91.8 412.6L95.3 413.5L98.8 416.5L97.6 420.7L95.8 422.2L97.0 427.5L102.3 433.9L107.5 440.7L112.7 445.6L115.0 447.3L114.4 449.8L117.6 451.5L119.3 453.0L118.4 457.3L119.1 461.1L118.8 464.3L121.9 466.8L130.1 466.6L135.3 467.9L139.7 468.8L142.8 471.1L145.8 474.3L151.0 476.4L155.7 475.8L157.6 479.6L157.9 481.9L161.4 481.5L165.8 484.5L170.1 487.9L175.7 494.0L177.6 498.7L178.8 502.3L179.2 504.7L180.9 507.0L225.8 502.5L225.8 497.6L221.8 493.4L222.1 488.9L225.1 483.2L225.8 476.4L232.2 470.0L228.8 466.6L226.5 461.3L223.7 454.7L161.9 397.8L130.1 370.1" stroke="#0d0d0d" stroke-width="2.25" fill="none" stroke-linejoin="round" stroke-linecap="round"/>
<path d="M130.1 370.1L130.1 306.4L56.8 306.4" stroke="#333" stroke-width="1.6" fill="none" stroke-linejoin="miter"/>
<path d="M86.6 394.4L88.0 391.8L86.9 388.9L89.0 387.8L90.6 389.3L93.2 390.1L90.1 391.4L89.6 393.5L90.9 396.1L93.6 399.9L95.8 402.7L93.2 402.0L90.1 398.8L88.7 395.7L86.6 394.4" stroke="#111" stroke-width="2" fill="none" stroke-linejoin="round"/>
<rect x="51.5" y="305.2" width="182.9" height="204.6" fill="none" stroke="#707070" stroke-width="1"/>
<path d="M60.5 509.8v6.5M95.3 509.8v6.5M130.1 509.8v6.5M164.9 509.8v6.5M199.7 509.8v6.5M234.5 509.8v6.5M51.5 476.4h-6.5M51.5 433.9h-6.5M51.5 391.4h-6.5M51.5 348.9h-6.5M51.5 306.4h-6.5" stroke="#707070" stroke-width="1" fill="none"/>
<clipPath id="c3"><rect x="0" y="0" width="241.6" height="565"/></clipPath>
<clipPath id="b3"><rect x="51.5" y="305.2" width="182.9" height="204.6"/></clipPath>
<text x="60.7" y="532.9" class="k" text-anchor="middle" clip-path="url(#c3)">-124</text>
<text x="95.5" y="532.9" class="k" text-anchor="middle" clip-path="url(#c3)">-122</text>
<text x="130.3" y="532.9" class="k" text-anchor="middle" clip-path="url(#c3)">-120</text>
<text x="165.1" y="532.9" class="k" text-anchor="middle" clip-path="url(#c3)">-118</text>
<text x="199.9" y="532.9" class="k" text-anchor="middle" clip-path="url(#c3)">-116</text>
<text x="234.7" y="532.9" class="k" text-anchor="middle" clip-path="url(#c3)">-114</text>
<text transform="translate(37.2 476.4) rotate(-90)" class="k" text-anchor="middle">34</text>
<text transform="translate(37.2 433.9) rotate(-90)" class="k" text-anchor="middle">36</text>
<text transform="translate(37.2 391.4) rotate(-90)" class="k" text-anchor="middle">38</text>
<text transform="translate(37.2 348.9) rotate(-90)" class="k" text-anchor="middle">40</text>
<text transform="translate(37.2 306.4) rotate(-90)" class="k" text-anchor="middle">42</text>
<text x="132.6" y="329.9" font-size="16" fill="#111" class="pl" clip-path="url(#b3)">(3.) Cycl. drt.</text>
</g>
<g font-size="10.73" fill="#262626">
<rect x="267.4" y="307.7" width="180.1" height="199.3" fill="#d3d3d3"/>
<mask id="m4" maskUnits="userSpaceOnUse" x="267.4" y="307.7" width="180.1" height="199.3"><path d="M272.4 308.9L272.6 313.1L274.3 317.2L275.5 322.4L274.3 327.6L273.3 330.7L271.7 335.9L269.1 340.7L270.2 345.3L275.1 349.8L278.1 354.6L280.1 360.8L280.6 366.0L281.5 372.3L286.3 377.5L291.4 383.3L293.8 386.8L293.3 391.4L296.6 392.2L301.2 394.1L301.7 396.6L301.4 402.4L303.4 408.6L306.9 412.8L310.3 413.6L313.7 416.5L312.5 420.7L310.8 422.2L312.0 427.3L317.2 433.6L322.3 440.2L327.4 445.0L329.7 446.7L329.2 449.2L332.3 450.8L334.0 452.3L333.1 456.4L333.8 460.2L333.5 463.3L336.5 465.8L344.6 465.6L349.7 466.8L354.0 467.7L357.1 469.9L360.0 473.1L365.2 475.1L369.8 474.5L371.7 478.3L372.0 480.5L375.5 480.1L379.8 483.0L384.0 486.4L389.5 492.4L391.4 497.0L392.6 500.5L393.0 502.8L394.7 505.1L438.9 500.7L438.9 495.9L435.0 491.8L435.3 487.4L438.2 481.8L438.9 475.1L445.3 468.9L441.8 465.6L439.6 460.4L436.9 453.9L376.0 398.3L344.6 371.2L344.6 308.9Z" fill="#fff" stroke="#fff" stroke-width="2.4" stroke-linejoin="round"/></mask>
<g mask="url(#m4)" shape-rendering="crispEdges">
<path fill="#f5a283" d="M267.4 308.9h17.4v10.7h-17.4zM267.4 319.3h17.4v10.7h-17.4zM293.1 319.3h8.9v10.7h-8.9zM267.4 329.7h34.6v10.7h-34.6zM267.4 340.1h8.9v10.7h-8.9zM310.3 350.5h8.9v10.7h-8.9zM293.1 371.2h8.9v10.7h-8.9zM310.3 371.2h8.9v10.7h-8.9zM327.4 371.2h8.9v10.7h-8.9zM284.6 381.6h17.4v10.7h-17.4zM336.0 392.0h8.9v10.7h-8.9zM293.1 402.4h26.0v10.7h-26.0zM344.6 402.4h8.9v10.7h-8.9zM344.6 412.8h8.9v10.7h-8.9zM344.6 423.2h8.9v10.7h-8.9zM353.2 433.6h8.9v10.7h-8.9zM361.8 444.0h8.9v10.7h-8.9z"/>
<path fill="#e1554f" d="M284.6 308.9h8.9v10.7h-8.9zM284.6 319.3h8.9v10.7h-8.9zM301.7 329.7h8.9v10.7h-8.9zM301.7 340.1h8.9v10.7h-8.9zM301.7 350.5h8.9v10.7h-8.9zM301.7 360.8h26.0v10.7h-26.0zM301.7 371.2h8.9v10.7h-8.9zM318.9 371.2h8.9v10.7h-8.9zM301.7 381.6h8.9v10.7h-8.9zM327.4 381.6h8.9v10.7h-8.9z"/>
<path fill="#c60030" d="M293.1 308.9h8.9v10.7h-8.9zM301.7 319.3h8.9v10.7h-8.9zM310.3 329.7h8.9v10.7h-8.9z"/>
<path fill="#fddac6" d="M301.7 308.9h8.9v10.7h-8.9zM310.3 319.3h17.4v10.7h-17.4zM327.4 329.7h8.9v10.7h-8.9zM276.0 340.1h26.0v10.7h-26.0zM310.3 340.1h17.4v10.7h-17.4zM284.6 350.5h17.4v10.7h-17.4zM318.9 350.5h8.9v10.7h-8.9zM284.6 360.8h17.4v10.7h-17.4zM327.4 360.8h8.9v10.7h-8.9zM318.9 381.6h8.9v10.7h-8.9zM293.1 392.0h34.6v10.7h-34.6zM318.9 402.4h8.9v10.7h-8.9zM336.0 412.8h8.9v10.7h-8.9zM318.9 423.2h8.9v10.7h-8.9zM353.2 423.2h8.9v10.7h-8.9zM344.6 433.6h8.9v10.7h-8.9zM378.9 433.6h8.9v10.7h-8.9zM353.2 444.0h8.9v10.7h-8.9zM413.2 444.0h8.9v10.7h-8.9zM404.6 454.4h17.4v10.7h-17.4zM387.5 475.1h8.9v10.7h-8.9z"/>
<path fill="#f6f6f6" d="M310.3 308.9h8.9v10.7h-8.9zM318.9 329.7h8.9v10.7h-8.9zM267.4 350.5h17.4v10.7h-17.4zM276.0 371.2h17.4v10.7h-17.4zM310.3 381.6h8.9v10.7h-8.9zM327.4 392.0h8.9v10.7h-8.9zM344.6 392.0h8.9v10.7h-8.9zM327.4 402.4h17.4v10.7h-17.4zM353.2 402.4h8.9v10.7h-8.9zM378.9 402.4h17.4v10.7h-17.4zM301.7 412.8h26.0v10.7h-26.0zM378.9 412.8h26.0v10.7h-26.0zM301.7 423.2h17.4v10.7h-17.4zM336.0 423.2h8.9v10.7h-8.9zM387.5 423.2h26.0v10.7h-26.0zM310.3 433.6h17.4v10.7h-17.4zM361.8 433.6h8.9v10.7h-8.9zM387.5 433.6h43.2v10.7h-43.2zM310.3 444.0h17.4v10.7h-17.4zM378.9 444.0h34.6v10.7h-34.6zM421.8 444.0h17.4v10.7h-17.4zM370.3 454.4h8.9v10.7h-8.9zM421.8 454.4h26.0v10.7h-26.0zM404.6 464.8h17.4v10.7h-17.4zM430.4 464.8h17.4v10.7h-17.4zM378.9 475.1h8.9v10.7h-8.9zM421.8 475.1h8.9v10.7h-8.9zM438.9 475.1h8.9v10.7h-8.9zM378.9 485.5h34.6v10.7h-34.6zM430.4 485.5h17.4v10.7h-17.4zM370.3 495.9h26.0v10.7h-26.0zM404.6 495.9h8.9v10.7h-8.9z"/>
<path fill="#d3e6f1" d="M318.9 308.9h8.9v10.7h-8.9zM336.0 308.9h8.9v10.7h-8.9zM327.4 319.3h8.9v10.7h-8.9zM327.4 340.1h8.9v10.7h-8.9zM267.4 360.8h17.4v10.7h-17.4zM336.0 381.6h8.9v10.7h-8.9zM361.8 402.4h8.9v10.7h-8.9zM327.4 412.8h8.9v10.7h-8.9zM353.2 412.8h8.9v10.7h-8.9zM327.4 423.2h8.9v10.7h-8.9zM336.0 433.6h8.9v10.7h-8.9zM327.4 444.0h26.0v10.7h-26.0zM370.3 444.0h8.9v10.7h-8.9zM318.9 454.4h17.4v10.7h-17.4zM344.6 454.4h17.4v10.7h-17.4zM378.9 454.4h26.0v10.7h-26.0zM318.9 464.8h77.5v10.7h-77.5zM421.8 464.8h8.9v10.7h-8.9zM327.4 475.1h51.7v10.7h-51.7zM404.6 475.1h17.4v10.7h-17.4zM430.4 475.1h8.9v10.7h-8.9zM361.8 485.5h17.4v10.7h-17.4zM421.8 485.5h8.9v10.7h-8.9zM396.0 495.9h8.9v10.7h-8.9zM413.2 495.9h8.9v10.7h-8.9z"/>
<path fill="#8cc3de" d="M327.4 308.9h8.9v10.7h-8.9zM336.0 329.7h8.9v10.7h-8.9zM336.0 340.1h8.9v10.7h-8.9zM327.4 350.5h8.9v10.7h-8.9zM361.8 423.2h8.9v10.7h-8.9zM378.9 423.2h8.9v10.7h-8.9zM327.4 433.6h8.9v10.7h-8.9zM370.3 433.6h8.9v10.7h-8.9zM336.0 454.4h8.9v10.7h-8.9zM361.8 454.4h8.9v10.7h-8.9zM396.0 475.1h8.9v10.7h-8.9zM430.4 495.9h17.4v10.7h-17.4z"/>
<path fill="#3291c3" d="M336.0 319.3h8.9v10.7h-8.9zM336.0 350.5h8.9v10.7h-8.9zM336.0 360.8h8.9v10.7h-8.9zM344.6 381.6h8.9v10.7h-8.9zM370.3 402.4h8.9v10.7h-8.9zM396.0 464.8h8.9v10.7h-8.9zM421.8 495.9h8.9v10.7h-8.9z"/>
<path fill="#1469af" d="M336.0 371.2h26.0v10.7h-26.0zM353.2 381.6h17.4v10.7h-17.4zM353.2 392.0h8.9v10.7h-8.9zM370.3 392.0h17.4v10.7h-17.4z"/>
<path fill="#053c6e" d="M361.8 392.0h8.9v10.7h-8.9zM361.8 412.8h17.4v10.7h-17.4zM370.3 423.2h8.9v10.7h-8.9z"/>
<path fill="#cdcdcd" d="M413.2 485.5h8.9v10.7h-8.9z"/>
</g>
<g shape-rendering="crispEdges">
<path fill="#f5a283" d="M276.0 308.9h4.5v5.4h-4.5zM280.3 308.9h4.5v5.4h-4.5zM276.0 314.1h4.5v5.4h-4.5zM276.0 319.3h4.5v5.4h-4.5zM276.0 324.5h4.5v5.4h-4.5zM271.7 329.7h4.5v5.4h-4.5zM267.4 334.9h4.5v5.4h-4.5zM271.7 334.9h4.5v5.4h-4.5zM276.0 329.7h4.5v5.4h-4.5zM267.4 340.1h4.5v5.4h-4.5zM271.7 340.1h4.5v5.4h-4.5zM271.7 345.3h4.5v5.4h-4.5zM293.1 381.6h4.5v5.4h-4.5zM293.1 386.8h4.5v5.4h-4.5zM297.4 386.8h4.5v5.4h-4.5zM301.7 402.4h4.5v5.4h-4.5zM301.7 407.6h4.5v5.4h-4.5zM306.0 407.6h4.5v5.4h-4.5zM310.3 407.6h4.5v5.4h-4.5z"/>
<path fill="#e1554f" d="M284.6 308.9h4.5v5.4h-4.5zM288.9 308.9h4.5v5.4h-4.5zM301.7 386.8h4.5v5.4h-4.5z"/>
<path fill="#c60030" d="M293.1 308.9h4.5v5.4h-4.5zM297.4 308.9h4.5v5.4h-4.5z"/>
<path fill="#fddac6" d="M301.7 308.9h4.5v5.4h-4.5zM306.0 308.9h4.5v5.4h-4.5zM276.0 345.3h4.5v5.4h-4.5zM301.7 392.0h4.5v5.4h-4.5zM301.7 397.2h4.5v5.4h-4.5zM318.9 428.4h4.5v5.4h-4.5z"/>
<path fill="#f6f6f6" d="M310.3 308.9h4.5v5.4h-4.5zM314.6 308.9h4.5v5.4h-4.5zM276.0 350.5h4.5v5.4h-4.5zM280.3 350.5h4.5v5.4h-4.5zM276.0 355.7h4.5v5.4h-4.5zM280.3 355.7h4.5v5.4h-4.5zM284.6 371.2h4.5v5.4h-4.5zM284.6 376.4h4.5v5.4h-4.5zM288.9 376.4h4.5v5.4h-4.5zM378.9 402.4h4.5v5.4h-4.5zM378.9 407.6h4.5v5.4h-4.5zM383.2 407.6h4.5v5.4h-4.5zM310.3 412.8h4.5v5.4h-4.5zM314.6 412.8h4.5v5.4h-4.5zM310.3 418.0h4.5v5.4h-4.5zM314.6 418.0h4.5v5.4h-4.5zM387.5 412.8h4.5v5.4h-4.5zM391.8 412.8h4.5v5.4h-4.5zM391.8 418.0h4.5v5.4h-4.5zM310.3 423.2h4.5v5.4h-4.5zM314.6 423.2h4.5v5.4h-4.5zM314.6 428.4h4.5v5.4h-4.5zM396.0 423.2h4.5v5.4h-4.5zM400.3 423.2h4.5v5.4h-4.5zM318.9 433.6h4.5v5.4h-4.5zM323.2 433.6h4.5v5.4h-4.5zM323.2 438.8h4.5v5.4h-4.5zM408.9 433.6h4.5v5.4h-4.5zM413.2 433.6h4.5v5.4h-4.5zM413.2 438.8h4.5v5.4h-4.5zM417.5 438.8h4.5v5.4h-4.5zM421.8 444.0h4.5v5.4h-4.5zM426.1 444.0h4.5v5.4h-4.5zM426.1 449.2h4.5v5.4h-4.5zM430.4 454.4h4.5v5.4h-4.5zM434.6 454.4h4.5v5.4h-4.5zM434.6 459.6h4.5v5.4h-4.5zM434.6 464.8h4.5v5.4h-4.5zM434.6 469.9h4.5v5.4h-4.5zM438.9 464.8h4.5v5.4h-4.5zM443.2 464.8h4.5v5.4h-4.5zM438.9 469.9h4.5v5.4h-4.5zM378.9 475.1h4.5v5.4h-4.5zM378.9 480.3h4.5v5.4h-4.5zM383.2 480.3h4.5v5.4h-4.5zM383.2 485.5h4.5v5.4h-4.5zM387.5 485.5h4.5v5.4h-4.5zM387.5 490.7h4.5v5.4h-4.5zM391.8 490.7h4.5v5.4h-4.5zM430.4 485.5h4.5v5.4h-4.5zM430.4 490.7h4.5v5.4h-4.5zM434.6 490.7h4.5v5.4h-4.5zM391.8 495.9h4.5v5.4h-4.5zM391.8 501.1h4.5v5.4h-4.5zM404.6 495.9h4.5v5.4h-4.5zM408.9 495.9h4.5v5.4h-4.5zM404.6 501.1h4.5v5.4h-4.5zM408.9 501.1h4.5v5.4h-4.5z"/>
<path fill="#d3e6f1" d="M318.9 308.9h4.5v5.4h-4.5zM323.2 308.9h4.5v5.4h-4.5zM336.0 308.9h4.5v5.4h-4.5zM340.3 308.9h4.5v5.4h-4.5zM340.3 314.1h4.5v5.4h-4.5zM280.3 360.8h4.5v5.4h-4.5zM280.3 366.0h4.5v5.4h-4.5zM327.4 444.0h4.5v5.4h-4.5zM331.7 444.0h4.5v5.4h-4.5zM331.7 449.2h4.5v5.4h-4.5zM336.0 449.2h4.5v5.4h-4.5zM331.7 454.4h4.5v5.4h-4.5zM331.7 459.6h4.5v5.4h-4.5zM344.6 459.6h4.5v5.4h-4.5zM348.9 459.6h4.5v5.4h-4.5zM344.6 464.8h4.5v5.4h-4.5zM348.9 464.8h4.5v5.4h-4.5zM353.2 464.8h4.5v5.4h-4.5zM357.5 464.8h4.5v5.4h-4.5zM357.5 469.9h4.5v5.4h-4.5zM361.8 469.9h4.5v5.4h-4.5zM366.0 469.9h4.5v5.4h-4.5zM370.3 469.9h4.5v5.4h-4.5zM370.3 475.1h4.5v5.4h-4.5zM374.6 475.1h4.5v5.4h-4.5zM434.6 475.1h4.5v5.4h-4.5zM430.4 480.3h4.5v5.4h-4.5zM434.6 480.3h4.5v5.4h-4.5zM396.0 501.1h4.5v5.4h-4.5zM400.3 501.1h4.5v5.4h-4.5zM413.2 495.9h4.5v5.4h-4.5zM417.5 495.9h4.5v5.4h-4.5zM413.2 501.1h4.5v5.4h-4.5zM417.5 501.1h4.5v5.4h-4.5z"/>
<path fill="#8cc3de" d="M327.4 308.9h4.5v5.4h-4.5zM331.7 308.9h4.5v5.4h-4.5zM340.3 329.7h4.5v5.4h-4.5zM340.3 334.9h4.5v5.4h-4.5zM340.3 340.1h4.5v5.4h-4.5zM340.3 345.3h4.5v5.4h-4.5zM327.4 438.8h4.5v5.4h-4.5zM336.0 454.4h4.5v5.4h-4.5zM336.0 459.6h4.5v5.4h-4.5zM340.3 459.6h4.5v5.4h-4.5zM430.4 495.9h4.5v5.4h-4.5zM434.6 495.9h4.5v5.4h-4.5zM430.4 501.1h4.5v5.4h-4.5zM434.6 501.1h4.5v5.4h-4.5z"/>
<path fill="#3291c3" d="M340.3 319.3h4.5v5.4h-4.5zM340.3 324.5h4.5v5.4h-4.5zM340.3 350.5h4.5v5.4h-4.5zM340.3 355.7h4.5v5.4h-4.5zM340.3 360.8h4.5v5.4h-4.5zM340.3 366.0h4.5v5.4h-4.5zM374.6 402.4h4.5v5.4h-4.5zM421.8 495.9h4.5v5.4h-4.5zM426.1 495.9h4.5v5.4h-4.5zM421.8 501.1h4.5v5.4h-4.5zM426.1 501.1h4.5v5.4h-4.5z"/>
<path fill="#1469af" d="M340.3 371.2h4.5v5.4h-4.5zM344.6 371.2h4.5v5.4h-4.5zM344.6 376.4h4.5v5.4h-4.5zM348.9 376.4h4.5v5.4h-4.5zM353.2 381.6h4.5v5.4h-4.5zM357.5 381.6h4.5v5.4h-4.5zM357.5 386.8h4.5v5.4h-4.5zM370.3 392.0h4.5v5.4h-4.5zM370.3 397.2h4.5v5.4h-4.5zM374.6 397.2h4.5v5.4h-4.5z"/>
<path fill="#053c6e" d="M361.8 392.0h4.5v5.4h-4.5zM366.0 392.0h4.5v5.4h-4.5z"/>
</g>
<path d="M276.0 307.7V507.0M310.3 307.7V507.0M344.6 307.7V507.0M378.9 307.7V507.0M413.2 307.7V507.0M267.4 475.1H447.5M267.4 433.6H447.5M267.4 392.0H447.5M267.4 350.5H447.5" stroke="#909090" stroke-opacity="0.42" stroke-width="0.8" fill="none"/>
<path d="M272.4 308.9L272.6 313.1L274.3 317.2L275.5 322.4L274.3 327.6L273.3 330.7L271.7 335.9L269.1 340.7L270.2 345.3L275.1 349.8L278.1 354.6L280.1 360.8L280.6 366.0L281.5 372.3L286.3 377.5L291.4 383.3L293.8 386.8L293.3 391.4L296.6 392.2L301.2 394.1L301.7 396.6L301.4 402.4L303.4 408.6L306.9 412.8L310.3 413.6L313.7 416.5L312.5 420.7L310.8 422.2L312.0 427.3L317.2 433.6L322.3 440.2L327.4 445.0L329.7 446.7L329.2 449.2L332.3 450.8L334.0 452.3L333.1 456.4L333.8 460.2L333.5 463.3L336.5 465.8L344.6 465.6L349.7 466.8L354.0 467.7L357.1 469.9L360.0 473.1L365.2 475.1L369.8 474.5L371.7 478.3L372.0 480.5L375.5 480.1L379.8 483.0L384.0 486.4L389.5 492.4L391.4 497.0L392.6 500.5L393.0 502.8L394.7 505.1L438.9 500.7L438.9 495.9L435.0 491.8L435.3 487.4L438.2 481.8L438.9 475.1L445.3 468.9L441.8 465.6L439.6 460.4L436.9 453.9L376.0 398.3L344.6 371.2" stroke="#0d0d0d" stroke-width="2.25" fill="none" stroke-linejoin="round" stroke-linecap="round"/>
<path d="M344.6 371.2L344.6 308.9L272.4 308.9" stroke="#333" stroke-width="1.6" fill="none" stroke-linejoin="miter"/>
<path d="M301.7 394.9L303.1 392.4L302.1 389.5L304.1 388.5L305.7 389.9L308.2 390.8L305.2 392.0L304.6 394.1L306.0 396.6L308.6 400.3L310.8 403.0L308.2 402.4L305.2 399.3L303.8 396.2L301.7 394.9" stroke="#111" stroke-width="2" fill="none" stroke-linejoin="round"/>
<rect x="267.4" y="307.7" width="180.1" height="199.3" fill="none" stroke="#707070" stroke-width="1"/>
<path d="M276.0 507.0v6.5M310.3 507.0v6.5M344.6 507.0v6.5M378.9 507.0v6.5M413.2 507.0v6.5M447.5 507.0v6.5M267.4 475.1h-6.5M267.4 433.6h-6.5M267.4 392.0h-6.5M267.4 350.5h-6.5M267.4 308.9h-6.5" stroke="#707070" stroke-width="1" fill="none"/>
<clipPath id="b4"><rect x="267.4" y="307.7" width="180.1" height="199.3"/></clipPath>
<text x="276.2" y="530.8" class="k" text-anchor="middle">-124</text>
<text x="310.5" y="530.8" class="k" text-anchor="middle">-122</text>
<text x="344.8" y="530.8" class="k" text-anchor="middle">-120</text>
<text x="379.1" y="530.8" class="k" text-anchor="middle">-118</text>
<text x="413.4" y="530.8" class="k" text-anchor="middle">-116</text>
<text x="447.7" y="530.8" class="k" text-anchor="middle">-114</text>
<text transform="translate(253.1 475.1) rotate(-90)" class="k" text-anchor="middle">34</text>
<text transform="translate(253.1 433.6) rotate(-90)" class="k" text-anchor="middle">36</text>
<text transform="translate(253.1 392.0) rotate(-90)" class="k" text-anchor="middle">38</text>
<text transform="translate(253.1 350.5) rotate(-90)" class="k" text-anchor="middle">40</text>
<text transform="translate(253.1 308.9) rotate(-90)" class="k" text-anchor="middle">42</text>
<text x="349.6" y="332.2" font-size="16" fill="#111" class="pl" clip-path="url(#b4)">(4.) Perm. drt.</text>
</g>
<g font-size="10.66" fill="#262626">
<rect x="574.8" y="58.8" width="179.0" height="204.7" fill="#d3d3d3"/>
<mask id="m5" maskUnits="userSpaceOnUse" x="574.8" y="58.8" width="179.0" height="204.7"><path d="M579.9 60.0L580.1 64.3L581.8 68.5L583.0 73.8L581.8 79.1L580.8 82.3L579.2 87.6L576.7 92.5L577.7 97.2L582.6 101.9L585.5 106.8L587.6 113.1L588.1 118.4L588.9 124.8L593.7 130.1L598.8 136.1L601.2 139.7L600.7 144.4L603.9 145.2L608.5 147.1L609.0 149.7L608.7 155.6L610.7 162.0L614.2 166.2L617.6 167.1L621.0 170.1L619.8 174.3L618.1 175.8L619.3 181.1L624.4 187.5L629.5 194.3L634.6 199.2L636.8 200.9L636.3 203.4L639.4 205.1L641.1 206.6L640.2 210.9L640.9 214.7L640.6 217.9L643.6 220.4L651.6 220.2L656.7 221.5L661.0 222.4L664.1 224.7L666.9 227.9L672.1 230.0L676.7 229.4L678.5 233.2L678.9 235.5L682.3 235.1L686.5 238.1L690.8 241.5L696.2 247.6L698.1 252.3L699.3 255.9L699.6 258.3L701.3 260.6L745.3 256.1L745.3 251.2L741.4 247.0L741.7 242.5L744.6 236.8L745.3 230.0L751.6 223.6L748.2 220.2L746.0 214.9L743.2 208.3L682.8 151.4L651.6 123.8L651.6 60.0Z" fill="#fff" stroke="#fff" stroke-width="2.4" stroke-linejoin="round"/></mask>
<g mask="url(#m5)" shape-rendering="crispEdges">
<path fill="#3291c3" d="M575.0 60.0h25.8v10.9h-25.8zM583.5 81.2h8.8v10.9h-8.8zM609.0 81.2h8.8v10.9h-8.8zM634.6 81.2h8.8v10.9h-8.8zM575.0 91.9h8.8v10.9h-8.8z"/>
<path fill="#8cc3de" d="M600.5 60.0h8.8v10.9h-8.8zM634.6 60.0h8.8v10.9h-8.8zM609.0 70.6h8.8v10.9h-8.8zM626.1 70.6h25.8v10.9h-25.8zM575.0 81.2h8.8v10.9h-8.8zM592.0 81.2h17.3v10.9h-17.3zM617.6 81.2h8.8v10.9h-8.8zM643.1 81.2h8.8v10.9h-8.8zM583.5 91.9h42.9v10.9h-42.9zM575.0 102.5h17.3v10.9h-17.3zM626.1 102.5h8.8v10.9h-8.8zM583.5 113.1h17.3v10.9h-17.3z"/>
<path fill="#d3e6f1" d="M609.0 60.0h8.8v10.9h-8.8zM626.1 60.0h8.8v10.9h-8.8zM575.0 70.6h17.3v10.9h-17.3zM600.5 70.6h8.8v10.9h-8.8zM617.6 70.6h8.8v10.9h-8.8zM626.1 91.9h8.8v10.9h-8.8zM617.6 102.5h8.8v10.9h-8.8zM600.5 113.1h8.8v10.9h-8.8zM617.6 113.1h25.8v10.9h-25.8zM600.5 123.8h8.8v10.9h-8.8zM634.6 123.8h8.8v10.9h-8.8zM677.2 176.9h8.8v10.9h-8.8zM702.7 219.4h8.8v10.9h-8.8z"/>
<path fill="#f6f6f6" d="M617.6 60.0h8.8v10.9h-8.8zM626.1 81.2h8.8v10.9h-8.8zM634.6 91.9h8.8v10.9h-8.8zM592.0 102.5h8.8v10.9h-8.8zM609.0 102.5h8.8v10.9h-8.8zM634.6 102.5h8.8v10.9h-8.8zM609.0 113.1h8.8v10.9h-8.8zM583.5 123.8h17.3v10.9h-17.3zM609.0 123.8h25.8v10.9h-25.8zM592.0 134.4h25.8v10.9h-25.8zM634.6 134.4h17.3v10.9h-17.3zM600.5 145.0h17.3v10.9h-17.3zM643.1 145.0h8.8v10.9h-8.8zM600.5 155.6h25.8v10.9h-25.8zM651.6 166.2h8.8v10.9h-8.8zM677.2 166.2h34.4v10.9h-34.4zM626.1 176.9h8.8v10.9h-8.8zM651.6 176.9h17.3v10.9h-17.3zM685.7 176.9h34.4v10.9h-34.4zM651.6 187.5h17.3v10.9h-17.3zM685.7 187.5h51.4v10.9h-51.4zM660.1 198.1h17.3v10.9h-17.3zM685.7 198.1h59.9v10.9h-59.9zM677.2 208.8h76.9v10.9h-76.9zM685.7 219.4h17.3v10.9h-17.3zM711.2 219.4h42.9v10.9h-42.9zM694.2 230.0h59.9v10.9h-59.9zM685.7 240.6h34.4v10.9h-34.4zM728.3 240.6h25.8v10.9h-25.8zM677.2 251.2h76.9v10.9h-76.9z"/>
<path fill="#1469af" d="M643.1 60.0h8.8v10.9h-8.8zM592.0 70.6h8.8v10.9h-8.8zM600.5 102.5h8.8v10.9h-8.8z"/>
<path fill="#fddac6" d="M643.1 91.9h8.8v10.9h-8.8zM643.1 113.1h8.8v10.9h-8.8zM643.1 123.8h25.8v10.9h-25.8zM617.6 134.4h17.3v10.9h-17.3zM617.6 145.0h25.8v10.9h-25.8zM651.6 145.0h8.8v10.9h-8.8zM677.2 145.0h17.3v10.9h-17.3zM626.1 155.6h42.9v10.9h-42.9zM677.2 155.6h17.3v10.9h-17.3zM609.0 166.2h42.9v10.9h-42.9zM660.1 166.2h8.8v10.9h-8.8zM609.0 176.9h17.3v10.9h-17.3zM634.6 176.9h17.3v10.9h-17.3zM668.6 176.9h8.8v10.9h-8.8zM617.6 187.5h34.4v10.9h-34.4zM668.6 187.5h17.3v10.9h-17.3zM617.6 198.1h42.9v10.9h-42.9zM677.2 198.1h8.8v10.9h-8.8zM626.1 208.8h51.4v10.9h-51.4zM626.1 219.4h59.9v10.9h-59.9zM634.6 230.0h59.9v10.9h-59.9zM668.6 240.6h17.3v10.9h-17.3z"/>
<path fill="#f5a283" d="M643.1 102.5h8.8v10.9h-8.8zM651.6 134.4h25.8v10.9h-25.8zM668.6 145.0h8.8v10.9h-8.8zM668.6 166.2h8.8v10.9h-8.8z"/>
<path fill="#e1554f" d="M660.1 145.0h8.8v10.9h-8.8zM668.6 155.6h8.8v10.9h-8.8z"/>
<path fill="#cdcdcd" d="M719.7 240.6h8.8v10.9h-8.8z"/>
</g>
<g shape-rendering="crispEdges">
<path fill="#3291c3" d="M583.5 60.0h4.5v5.5h-4.5zM587.8 60.0h4.5v5.5h-4.5zM583.5 65.3h4.5v5.5h-4.5zM592.0 60.0h4.5v5.5h-4.5zM596.3 60.0h4.5v5.5h-4.5zM583.5 81.2h4.5v5.5h-4.5zM575.0 91.9h4.5v5.5h-4.5zM579.2 91.9h4.5v5.5h-4.5zM579.2 97.2h4.5v5.5h-4.5z"/>
<path fill="#8cc3de" d="M600.5 60.0h4.5v5.5h-4.5zM604.8 60.0h4.5v5.5h-4.5zM634.6 60.0h4.5v5.5h-4.5zM638.8 60.0h4.5v5.5h-4.5zM647.4 70.6h4.5v5.5h-4.5zM647.4 75.9h4.5v5.5h-4.5zM579.2 81.2h4.5v5.5h-4.5zM575.0 86.6h4.5v5.5h-4.5zM579.2 86.6h4.5v5.5h-4.5zM647.4 81.2h4.5v5.5h-4.5zM647.4 86.6h4.5v5.5h-4.5zM583.5 97.2h4.5v5.5h-4.5zM583.5 102.5h4.5v5.5h-4.5zM587.8 102.5h4.5v5.5h-4.5zM583.5 107.8h4.5v5.5h-4.5zM587.8 107.8h4.5v5.5h-4.5z"/>
<path fill="#d3e6f1" d="M609.0 60.0h4.5v5.5h-4.5zM613.3 60.0h4.5v5.5h-4.5zM626.1 60.0h4.5v5.5h-4.5zM630.3 60.0h4.5v5.5h-4.5zM583.5 70.6h4.5v5.5h-4.5zM583.5 75.9h4.5v5.5h-4.5z"/>
<path fill="#f6f6f6" d="M617.6 60.0h4.5v5.5h-4.5zM621.8 60.0h4.5v5.5h-4.5zM592.0 123.8h4.5v5.5h-4.5zM592.0 129.1h4.5v5.5h-4.5zM596.3 129.1h4.5v5.5h-4.5zM600.5 134.4h4.5v5.5h-4.5zM600.5 139.7h4.5v5.5h-4.5zM604.8 139.7h4.5v5.5h-4.5zM609.0 139.7h4.5v5.5h-4.5zM609.0 145.0h4.5v5.5h-4.5zM609.0 150.3h4.5v5.5h-4.5zM609.0 155.6h4.5v5.5h-4.5zM609.0 160.9h4.5v5.5h-4.5zM613.3 160.9h4.5v5.5h-4.5zM617.6 160.9h4.5v5.5h-4.5zM694.2 166.2h4.5v5.5h-4.5zM698.5 166.2h4.5v5.5h-4.5zM698.5 171.6h4.5v5.5h-4.5zM626.1 182.2h4.5v5.5h-4.5zM702.7 176.9h4.5v5.5h-4.5zM707.0 176.9h4.5v5.5h-4.5zM715.5 187.5h4.5v5.5h-4.5zM719.7 187.5h4.5v5.5h-4.5zM719.7 192.8h4.5v5.5h-4.5zM724.0 192.8h4.5v5.5h-4.5zM728.3 198.1h4.5v5.5h-4.5zM732.5 198.1h4.5v5.5h-4.5zM732.5 203.4h4.5v5.5h-4.5zM736.8 208.8h4.5v5.5h-4.5zM741.0 208.8h4.5v5.5h-4.5zM741.0 214.1h4.5v5.5h-4.5zM741.0 219.4h4.5v5.5h-4.5zM741.0 224.7h4.5v5.5h-4.5zM745.3 219.4h4.5v5.5h-4.5zM749.5 219.4h4.5v5.5h-4.5zM745.3 224.7h4.5v5.5h-4.5zM741.0 230.0h4.5v5.5h-4.5zM736.8 235.3h4.5v5.5h-4.5zM741.0 235.3h4.5v5.5h-4.5zM689.9 240.6h4.5v5.5h-4.5zM694.2 240.6h4.5v5.5h-4.5zM694.2 245.9h4.5v5.5h-4.5zM698.5 245.9h4.5v5.5h-4.5zM736.8 240.6h4.5v5.5h-4.5zM736.8 245.9h4.5v5.5h-4.5zM741.0 245.9h4.5v5.5h-4.5zM698.5 251.2h4.5v5.5h-4.5zM698.5 256.6h4.5v5.5h-4.5zM702.7 256.6h4.5v5.5h-4.5zM707.0 256.6h4.5v5.5h-4.5zM711.2 251.2h4.5v5.5h-4.5zM715.5 251.2h4.5v5.5h-4.5zM711.2 256.6h4.5v5.5h-4.5zM715.5 256.6h4.5v5.5h-4.5zM719.7 251.2h4.5v5.5h-4.5zM724.0 251.2h4.5v5.5h-4.5zM719.7 256.6h4.5v5.5h-4.5zM724.0 256.6h4.5v5.5h-4.5zM728.3 251.2h4.5v5.5h-4.5zM732.5 251.2h4.5v5.5h-4.5zM728.3 256.6h4.5v5.5h-4.5zM732.5 256.6h4.5v5.5h-4.5zM736.8 251.2h4.5v5.5h-4.5zM741.0 251.2h4.5v5.5h-4.5zM736.8 256.6h4.5v5.5h-4.5zM741.0 256.6h4.5v5.5h-4.5z"/>
<path fill="#1469af" d="M643.1 60.0h4.5v5.5h-4.5zM647.4 60.0h4.5v5.5h-4.5zM647.4 65.3h4.5v5.5h-4.5z"/>
<path fill="#fddac6" d="M647.4 91.9h4.5v5.5h-4.5zM647.4 97.2h4.5v5.5h-4.5zM647.4 113.1h4.5v5.5h-4.5zM647.4 118.4h4.5v5.5h-4.5zM647.4 123.8h4.5v5.5h-4.5zM651.6 123.8h4.5v5.5h-4.5zM651.6 129.1h4.5v5.5h-4.5zM655.9 129.1h4.5v5.5h-4.5zM677.2 145.0h4.5v5.5h-4.5zM677.2 150.3h4.5v5.5h-4.5zM681.4 150.3h4.5v5.5h-4.5zM681.4 155.6h4.5v5.5h-4.5zM617.6 166.2h4.5v5.5h-4.5zM621.8 166.2h4.5v5.5h-4.5zM617.6 171.6h4.5v5.5h-4.5zM621.8 171.6h4.5v5.5h-4.5zM617.6 176.9h4.5v5.5h-4.5zM621.8 176.9h4.5v5.5h-4.5zM621.8 182.2h4.5v5.5h-4.5zM626.1 187.5h4.5v5.5h-4.5zM630.3 187.5h4.5v5.5h-4.5zM630.3 192.8h4.5v5.5h-4.5zM634.6 192.8h4.5v5.5h-4.5zM634.6 198.1h4.5v5.5h-4.5zM638.8 198.1h4.5v5.5h-4.5zM638.8 203.4h4.5v5.5h-4.5zM643.1 203.4h4.5v5.5h-4.5zM638.8 208.8h4.5v5.5h-4.5zM638.8 214.1h4.5v5.5h-4.5zM643.1 208.8h4.5v5.5h-4.5zM643.1 214.1h4.5v5.5h-4.5zM647.4 214.1h4.5v5.5h-4.5zM651.6 214.1h4.5v5.5h-4.5zM655.9 214.1h4.5v5.5h-4.5zM651.6 219.4h4.5v5.5h-4.5zM655.9 219.4h4.5v5.5h-4.5zM660.1 219.4h4.5v5.5h-4.5zM664.4 219.4h4.5v5.5h-4.5zM664.4 224.7h4.5v5.5h-4.5zM668.6 224.7h4.5v5.5h-4.5zM672.9 224.7h4.5v5.5h-4.5zM677.2 224.7h4.5v5.5h-4.5zM677.2 230.0h4.5v5.5h-4.5zM681.4 230.0h4.5v5.5h-4.5zM685.7 230.0h4.5v5.5h-4.5zM685.7 235.3h4.5v5.5h-4.5zM689.9 235.3h4.5v5.5h-4.5z"/>
<path fill="#f5a283" d="M647.4 102.5h4.5v5.5h-4.5zM647.4 107.8h4.5v5.5h-4.5zM660.1 134.4h4.5v5.5h-4.5zM664.4 134.4h4.5v5.5h-4.5zM664.4 139.7h4.5v5.5h-4.5zM668.6 145.0h4.5v5.5h-4.5zM672.9 145.0h4.5v5.5h-4.5z"/>
</g>
<path d="M583.5 58.8V263.5M617.6 58.8V263.5M651.6 58.8V263.5M685.7 58.8V263.5M719.7 58.8V263.5M574.8 230.0H753.8M574.8 187.5H753.8M574.8 145.0H753.8M574.8 102.5H753.8" stroke="#909090" stroke-opacity="0.42" stroke-width="0.8" fill="none"/>
<path d="M579.9 60.0L580.1 64.3L581.8 68.5L583.0 73.8L581.8 79.1L580.8 82.3L579.2 87.6L576.7 92.5L577.7 97.2L582.6 101.9L585.5 106.8L587.6 113.1L588.1 118.4L588.9 124.8L593.7 130.1L598.8 136.1L601.2 139.7L600.7 144.4L603.9 145.2L608.5 147.1L609.0 149.7L608.7 155.6L610.7 162.0L614.2 166.2L617.6 167.1L621.0 170.1L619.8 174.3L618.1 175.8L619.3 181.1L624.4 187.5L629.5 194.3L634.6 199.2L636.8 200.9L636.3 203.4L639.4 205.1L641.1 206.6L640.2 210.9L640.9 214.7L640.6 217.9L643.6 220.4L651.6 220.2L656.7 221.5L661.0 222.4L664.1 224.7L666.9 227.9L672.1 230.0L676.7 229.4L678.5 233.2L678.9 235.5L682.3 235.1L686.5 238.1L690.8 241.5L696.2 247.6L698.1 252.3L699.3 255.9L699.6 258.3L701.3 260.6L745.3 256.1L745.3 251.2L741.4 247.0L741.7 242.5L744.6 236.8L745.3 230.0L751.6 223.6L748.2 220.2L746.0 214.9L743.2 208.3L682.8 151.4L651.6 123.8" stroke="#0d0d0d" stroke-width="2.25" fill="none" stroke-linejoin="round" stroke-linecap="round"/>
<path d="M651.6 123.8L651.6 60.0L579.9 60.0" stroke="#333" stroke-width="1.6" fill="none" stroke-linejoin="miter"/>
<path d="M609.0 148.0L610.4 145.4L609.4 142.5L611.4 141.4L613.0 142.9L615.5 143.7L612.5 145.0L611.9 147.1L613.3 149.7L615.9 153.5L618.1 156.3L615.5 155.6L612.5 152.4L611.1 149.3L609.0 148.0" stroke="#111" stroke-width="2" fill="none" stroke-linejoin="round"/>
<rect x="574.8" y="58.8" width="179.0" height="204.7" fill="none" stroke="#707070" stroke-width="1"/>
<path d="M583.5 263.5v6.5M617.6 263.5v6.5M651.6 263.5v6.5M685.7 263.5v6.5M719.7 263.5v6.5M753.8 263.5v6.5M574.8 230.0h-6.5M574.8 187.5h-6.5M574.8 145.0h-6.5M574.8 102.5h-6.5M574.8 60.0h-6.5" stroke="#707070" stroke-width="1" fill="none"/>
<clipPath id="b5"><rect x="574.8" y="58.8" width="179.0" height="204.7"/></clipPath>
<text x="583.7" y="288.0" class="k" text-anchor="middle">-124</text>
<text x="617.8" y="288.0" class="k" text-anchor="middle">-122</text>
<text x="651.8" y="288.0" class="k" text-anchor="middle">-120</text>
<text x="685.9" y="288.0" class="k" text-anchor="middle">-118</text>
<text x="719.9" y="288.0" class="k" text-anchor="middle">-116</text>
<text x="754.0" y="288.0" class="k" text-anchor="middle">-114</text>
<text transform="translate(560.5 230.0) rotate(-90)" class="k" text-anchor="middle">34</text>
<text transform="translate(560.5 187.5) rotate(-90)" class="k" text-anchor="middle">36</text>
<text transform="translate(560.5 145.0) rotate(-90)" class="k" text-anchor="middle">38</text>
<text transform="translate(560.5 102.5) rotate(-90)" class="k" text-anchor="middle">40</text>
<text transform="translate(560.5 60.0) rotate(-90)" class="k" text-anchor="middle">42</text>
<rect x="545" y="125" width="10.4" height="135" fill="#fff"/>
<text x="661.6" y="89.9" font-size="16" fill="#111" class="pl" clip-path="url(#b5)">(1.) RCP 2.6</text>
</g>
<g font-size="10.76" fill="#262626">
<rect x="792.4" y="57.4" width="180.5" height="206.7" fill="#d3d3d3"/>
<mask id="m6" maskUnits="userSpaceOnUse" x="792.4" y="57.4" width="180.5" height="206.7"><path d="M797.4 58.4L797.6 62.7L799.3 67.0L800.5 72.4L799.3 77.8L798.2 81.0L796.7 86.4L794.1 91.4L795.2 96.1L800.1 100.9L803.1 105.8L805.1 112.3L805.6 117.7L806.5 124.2L811.3 129.5L816.5 135.6L818.9 139.2L818.4 144.0L821.6 144.9L826.3 146.8L826.8 149.4L826.4 155.4L828.5 161.9L831.9 166.2L835.4 167.1L838.8 170.1L837.6 174.4L835.9 175.9L837.1 181.3L842.3 187.8L847.4 194.7L852.6 199.6L854.8 201.3L854.3 203.9L857.4 205.7L859.1 207.2L858.2 211.5L858.9 215.4L858.6 218.6L861.7 221.2L869.8 221.0L874.9 222.3L879.2 223.1L882.3 225.5L885.2 228.7L890.4 230.9L895.0 230.2L896.9 234.1L897.3 236.5L900.7 236.1L905.0 239.1L909.3 242.5L914.8 248.8L916.7 253.5L917.9 257.2L918.2 259.6L920.0 261.9L964.3 257.4L964.3 252.4L960.4 248.1L960.7 243.6L963.6 237.8L964.3 230.9L970.7 224.4L967.2 221.0L965.0 215.6L962.2 208.9L901.2 151.1L869.8 123.1L869.8 58.4Z" fill="#fff" stroke="#fff" stroke-width="2.4" stroke-linejoin="round"/></mask>
<g mask="url(#m6)" shape-rendering="crispEdges">
<path fill="#d3e6f1" d="M792.4 58.4h26.1v11.1h-26.1zM809.6 69.2h8.9v11.1h-8.9zM792.4 80.0h26.1v11.1h-26.1zM826.8 80.0h17.5v11.1h-17.5zM826.8 90.7h8.9v11.1h-8.9zM818.2 101.5h8.9v11.1h-8.9zM835.4 101.5h17.5v11.1h-17.5zM818.2 112.3h8.9v11.1h-8.9zM844.0 112.3h8.9v11.1h-8.9zM801.0 123.1h17.5v11.1h-17.5zM826.8 123.1h8.9v11.1h-8.9zM852.6 123.1h8.9v11.1h-8.9zM826.8 133.9h8.9v11.1h-8.9zM818.2 144.6h26.1v11.1h-26.1zM844.0 155.4h8.9v11.1h-8.9zM826.8 166.2h17.5v11.1h-17.5zM895.5 177.0h8.9v11.1h-8.9zM835.4 187.8h17.5v11.1h-17.5zM878.4 209.3h8.9v11.1h-8.9zM904.1 220.1h26.1v11.1h-26.1z"/>
<path fill="#f6f6f6" d="M818.2 58.4h8.9v11.1h-8.9zM792.4 69.2h17.5v11.1h-17.5zM826.8 69.2h8.9v11.1h-8.9zM818.2 80.0h8.9v11.1h-8.9zM801.0 90.7h26.1v11.1h-26.1zM835.4 90.7h8.9v11.1h-8.9zM792.4 101.5h26.1v11.1h-26.1zM826.8 101.5h8.9v11.1h-8.9zM826.8 112.3h17.5v11.1h-17.5zM852.6 112.3h8.9v11.1h-8.9zM835.4 123.1h17.5v11.1h-17.5zM835.4 133.9h34.7v11.1h-34.7zM844.0 144.6h26.1v11.1h-26.1zM818.2 155.4h26.1v11.1h-26.1zM852.6 155.4h26.1v11.1h-26.1zM904.1 155.4h17.5v11.1h-17.5zM844.0 166.2h43.3v11.1h-43.3zM895.5 166.2h34.7v11.1h-34.7zM826.8 177.0h34.7v11.1h-34.7zM869.8 177.0h17.5v11.1h-17.5zM904.1 177.0h34.7v11.1h-34.7zM852.6 187.8h34.7v11.1h-34.7zM904.1 187.8h51.9v11.1h-51.9zM835.4 198.5h34.7v11.1h-34.7zM878.4 198.5h17.5v11.1h-17.5zM904.1 198.5h60.5v11.1h-60.5zM844.0 209.3h34.7v11.1h-34.7zM887.0 209.3h86.2v11.1h-86.2zM844.0 220.1h34.7v11.1h-34.7zM887.0 220.1h17.5v11.1h-17.5zM929.9 220.1h43.3v11.1h-43.3zM852.6 230.9h120.6v11.1h-120.6zM887.0 241.7h51.9v11.1h-51.9zM947.1 241.7h26.1v11.1h-26.1zM895.5 252.4h77.7v11.1h-77.7z"/>
<path fill="#fddac6" d="M826.8 58.4h8.9v11.1h-8.9zM861.2 58.4h8.9v11.1h-8.9zM818.2 69.2h8.9v11.1h-8.9zM835.4 69.2h26.1v11.1h-26.1zM852.6 80.0h17.5v11.1h-17.5zM844.0 90.7h8.9v11.1h-8.9zM869.8 144.6h8.9v11.1h-8.9zM895.5 144.6h17.5v11.1h-17.5zM878.4 155.4h26.1v11.1h-26.1zM861.2 177.0h8.9v11.1h-8.9zM887.0 177.0h8.9v11.1h-8.9zM887.0 187.8h17.5v11.1h-17.5zM869.8 198.5h8.9v11.1h-8.9zM895.5 198.5h8.9v11.1h-8.9zM878.4 220.1h8.9v11.1h-8.9z"/>
<path fill="#e1554f" d="M835.4 58.4h8.9v11.1h-8.9zM852.6 58.4h8.9v11.1h-8.9zM852.6 101.5h8.9v11.1h-8.9zM861.2 112.3h8.9v11.1h-8.9zM861.2 123.1h8.9v11.1h-8.9zM887.0 144.6h8.9v11.1h-8.9z"/>
<path fill="#f5a283" d="M844.0 58.4h8.9v11.1h-8.9zM861.2 69.2h8.9v11.1h-8.9zM844.0 80.0h8.9v11.1h-8.9zM852.6 90.7h17.5v11.1h-17.5zM887.0 166.2h8.9v11.1h-8.9z"/>
<path fill="#8cc3de" d="M792.4 90.7h8.9v11.1h-8.9zM801.0 112.3h17.5v11.1h-17.5zM818.2 123.1h8.9v11.1h-8.9zM809.6 133.9h17.5v11.1h-17.5z"/>
<path fill="#c60030" d="M861.2 101.5h8.9v11.1h-8.9zM869.8 123.1h17.5v11.1h-17.5zM869.8 133.9h26.1v11.1h-26.1zM878.4 144.6h8.9v11.1h-8.9z"/>
<path fill="#cdcdcd" d="M938.5 241.7h8.9v11.1h-8.9z"/>
</g>
<g shape-rendering="crispEdges">
<path fill="#d3e6f1" d="M801.0 58.4h4.5v5.6h-4.5zM805.3 58.4h4.5v5.6h-4.5zM801.0 63.8h4.5v5.6h-4.5zM809.6 58.4h4.5v5.6h-4.5zM813.9 58.4h4.5v5.6h-4.5zM796.7 80.0h4.5v5.6h-4.5zM792.4 85.3h4.5v5.6h-4.5zM796.7 85.3h4.5v5.6h-4.5zM801.0 80.0h4.5v5.6h-4.5zM809.6 123.1h4.5v5.6h-4.5zM809.6 128.5h4.5v5.6h-4.5zM813.9 128.5h4.5v5.6h-4.5zM826.8 144.6h4.5v5.6h-4.5zM826.8 150.0h4.5v5.6h-4.5zM835.4 166.2h4.5v5.6h-4.5zM839.7 166.2h4.5v5.6h-4.5zM835.4 171.6h4.5v5.6h-4.5zM839.7 171.6h4.5v5.6h-4.5zM844.0 187.8h4.5v5.6h-4.5zM848.3 187.8h4.5v5.6h-4.5zM848.3 193.1h4.5v5.6h-4.5z"/>
<path fill="#f6f6f6" d="M818.2 58.4h4.5v5.6h-4.5zM822.5 58.4h4.5v5.6h-4.5zM801.0 69.2h4.5v5.6h-4.5zM801.0 74.6h4.5v5.6h-4.5zM801.0 96.1h4.5v5.6h-4.5zM801.0 101.5h4.5v5.6h-4.5zM805.3 101.5h4.5v5.6h-4.5zM801.0 106.9h4.5v5.6h-4.5zM805.3 106.9h4.5v5.6h-4.5zM826.8 155.4h4.5v5.6h-4.5zM826.8 160.8h4.5v5.6h-4.5zM831.1 160.8h4.5v5.6h-4.5zM835.4 160.8h4.5v5.6h-4.5zM904.1 155.4h4.5v5.6h-4.5zM908.4 160.8h4.5v5.6h-4.5zM912.7 166.2h4.5v5.6h-4.5zM917.0 166.2h4.5v5.6h-4.5zM917.0 171.6h4.5v5.6h-4.5zM835.4 177.0h4.5v5.6h-4.5zM839.7 177.0h4.5v5.6h-4.5zM839.7 182.4h4.5v5.6h-4.5zM844.0 182.4h4.5v5.6h-4.5zM921.3 177.0h4.5v5.6h-4.5zM925.6 177.0h4.5v5.6h-4.5zM852.6 193.1h4.5v5.6h-4.5zM934.2 187.8h4.5v5.6h-4.5zM938.5 187.8h4.5v5.6h-4.5zM938.5 193.1h4.5v5.6h-4.5zM942.8 193.1h4.5v5.6h-4.5zM852.6 198.5h4.5v5.6h-4.5zM856.9 198.5h4.5v5.6h-4.5zM856.9 203.9h4.5v5.6h-4.5zM861.2 203.9h4.5v5.6h-4.5zM947.1 198.5h4.5v5.6h-4.5zM951.4 198.5h4.5v5.6h-4.5zM951.4 203.9h4.5v5.6h-4.5zM856.9 209.3h4.5v5.6h-4.5zM856.9 214.7h4.5v5.6h-4.5zM861.2 209.3h4.5v5.6h-4.5zM861.2 214.7h4.5v5.6h-4.5zM865.5 214.7h4.5v5.6h-4.5zM869.8 214.7h4.5v5.6h-4.5zM874.1 214.7h4.5v5.6h-4.5zM955.7 209.3h4.5v5.6h-4.5zM960.0 209.3h4.5v5.6h-4.5zM960.0 214.7h4.5v5.6h-4.5zM869.8 220.1h4.5v5.6h-4.5zM874.1 220.1h4.5v5.6h-4.5zM887.0 225.5h4.5v5.6h-4.5zM891.2 225.5h4.5v5.6h-4.5zM895.5 225.5h4.5v5.6h-4.5zM960.0 220.1h4.5v5.6h-4.5zM960.0 225.5h4.5v5.6h-4.5zM964.3 220.1h4.5v5.6h-4.5zM968.6 220.1h4.5v5.6h-4.5zM964.3 225.5h4.5v5.6h-4.5zM895.5 230.9h4.5v5.6h-4.5zM899.8 230.9h4.5v5.6h-4.5zM904.1 230.9h4.5v5.6h-4.5zM904.1 236.3h4.5v5.6h-4.5zM908.4 236.3h4.5v5.6h-4.5zM960.0 230.9h4.5v5.6h-4.5zM955.7 236.3h4.5v5.6h-4.5zM960.0 236.3h4.5v5.6h-4.5zM908.4 241.7h4.5v5.6h-4.5zM912.7 241.7h4.5v5.6h-4.5zM912.7 247.0h4.5v5.6h-4.5zM917.0 247.0h4.5v5.6h-4.5zM955.7 241.7h4.5v5.6h-4.5zM955.7 247.0h4.5v5.6h-4.5zM960.0 247.0h4.5v5.6h-4.5zM917.0 252.4h4.5v5.6h-4.5zM917.0 257.8h4.5v5.6h-4.5zM921.3 257.8h4.5v5.6h-4.5zM925.6 257.8h4.5v5.6h-4.5zM934.2 252.4h4.5v5.6h-4.5zM929.9 257.8h4.5v5.6h-4.5zM934.2 257.8h4.5v5.6h-4.5zM938.5 252.4h4.5v5.6h-4.5zM942.8 252.4h4.5v5.6h-4.5zM938.5 257.8h4.5v5.6h-4.5zM942.8 257.8h4.5v5.6h-4.5zM947.1 252.4h4.5v5.6h-4.5zM951.4 252.4h4.5v5.6h-4.5zM947.1 257.8h4.5v5.6h-4.5zM951.4 257.8h4.5v5.6h-4.5zM955.7 252.4h4.5v5.6h-4.5zM960.0 252.4h4.5v5.6h-4.5zM955.7 257.8h4.5v5.6h-4.5zM960.0 257.8h4.5v5.6h-4.5z"/>
<path fill="#fddac6" d="M826.8 58.4h4.5v5.6h-4.5zM831.1 58.4h4.5v5.6h-4.5zM861.2 58.4h4.5v5.6h-4.5zM865.5 58.4h4.5v5.6h-4.5zM865.5 63.8h4.5v5.6h-4.5zM865.5 80.0h4.5v5.6h-4.5zM865.5 85.3h4.5v5.6h-4.5zM895.5 144.6h4.5v5.6h-4.5zM895.5 150.0h4.5v5.6h-4.5zM899.8 150.0h4.5v5.6h-4.5zM899.8 155.4h4.5v5.6h-4.5zM878.4 220.1h4.5v5.6h-4.5zM882.7 220.1h4.5v5.6h-4.5zM882.7 225.5h4.5v5.6h-4.5z"/>
<path fill="#e1554f" d="M835.4 58.4h4.5v5.6h-4.5zM839.7 58.4h4.5v5.6h-4.5zM852.6 58.4h4.5v5.6h-4.5zM856.9 58.4h4.5v5.6h-4.5zM865.5 112.3h4.5v5.6h-4.5zM865.5 117.7h4.5v5.6h-4.5zM865.5 123.1h4.5v5.6h-4.5zM887.0 144.6h4.5v5.6h-4.5zM891.2 144.6h4.5v5.6h-4.5z"/>
<path fill="#f5a283" d="M844.0 58.4h4.5v5.6h-4.5zM848.3 58.4h4.5v5.6h-4.5zM865.5 69.2h4.5v5.6h-4.5zM865.5 74.6h4.5v5.6h-4.5zM865.5 90.7h4.5v5.6h-4.5zM865.5 96.1h4.5v5.6h-4.5z"/>
<path fill="#8cc3de" d="M792.4 90.7h4.5v5.6h-4.5zM796.7 90.7h4.5v5.6h-4.5zM796.7 96.1h4.5v5.6h-4.5zM818.2 133.9h4.5v5.6h-4.5zM818.2 139.2h4.5v5.6h-4.5zM822.5 139.2h4.5v5.6h-4.5z"/>
<path fill="#c60030" d="M865.5 101.5h4.5v5.6h-4.5zM865.5 106.9h4.5v5.6h-4.5zM869.8 123.1h4.5v5.6h-4.5zM869.8 128.5h4.5v5.6h-4.5zM874.1 128.5h4.5v5.6h-4.5zM878.4 133.9h4.5v5.6h-4.5zM882.7 133.9h4.5v5.6h-4.5zM882.7 139.2h4.5v5.6h-4.5z"/>
</g>
<path d="M801.0 57.4V264.1M835.4 57.4V264.1M869.8 57.4V264.1M904.1 57.4V264.1M938.5 57.4V264.1M792.4 230.9H972.9M792.4 187.8H972.9M792.4 144.6H972.9M792.4 101.5H972.9" stroke="#909090" stroke-opacity="0.42" stroke-width="0.8" fill="none"/>
<path d="M797.4 58.4L797.6 62.7L799.3 67.0L800.5 72.4L799.3 77.8L798.2 81.0L796.7 86.4L794.1 91.4L795.2 96.1L800.1 100.9L803.1 105.8L805.1 112.3L805.6 117.7L806.5 124.2L811.3 129.5L816.5 135.6L818.9 139.2L818.4 144.0L821.6 144.9L826.3 146.8L826.8 149.4L826.4 155.4L828.5 161.9L831.9 166.2L835.4 167.1L838.8 170.1L837.6 174.4L835.9 175.9L837.1 181.3L842.3 187.8L847.4 194.7L852.6 199.6L854.8 201.3L854.3 203.9L857.4 205.7L859.1 207.2L858.2 211.5L858.9 215.4L858.6 218.6L861.7 221.2L869.8 221.0L874.9 222.3L879.2 223.1L882.3 225.5L885.2 228.7L890.4 230.9L895.0 230.2L896.9 234.1L897.3 236.5L900.7 236.1L905.0 239.1L909.3 242.5L914.8 248.8L916.7 253.5L917.9 257.2L918.2 259.6L920.0 261.9L964.3 257.4L964.3 252.4L960.4 248.1L960.7 243.6L963.6 237.8L964.3 230.9L970.7 224.4L967.2 221.0L965.0 215.6L962.2 208.9L901.2 151.1L869.8 123.1" stroke="#0d0d0d" stroke-width="2.25" fill="none" stroke-linejoin="round" stroke-linecap="round"/>
<path d="M869.8 123.1L869.8 58.4L797.4 58.4" stroke="#333" stroke-width="1.6" fill="none" stroke-linejoin="miter"/>
<path d="M826.8 147.7L828.2 145.1L827.1 142.1L829.2 141.0L830.7 142.5L833.3 143.3L830.2 144.6L829.7 146.8L831.1 149.4L833.7 153.3L835.9 156.1L833.3 155.4L830.2 152.2L828.8 149.0L826.8 147.7" stroke="#111" stroke-width="2" fill="none" stroke-linejoin="round"/>
<rect x="792.4" y="57.4" width="180.5" height="206.7" fill="none" stroke="#707070" stroke-width="1"/>
<path d="M801.0 264.1v6.5M835.4 264.1v6.5M869.8 264.1v6.5M904.1 264.1v6.5M938.5 264.1v6.5M972.9 264.1v6.5M792.4 230.9h-6.5M792.4 187.8h-6.5M792.4 144.6h-6.5M792.4 101.5h-6.5M792.4 58.4h-6.5" stroke="#707070" stroke-width="1" fill="none"/>
<clipPath id="b6"><rect x="792.4" y="57.4" width="180.5" height="206.7"/></clipPath>
<text x="801.2" y="288.6" class="k" text-anchor="middle">-124</text>
<text x="835.6" y="288.6" class="k" text-anchor="middle">-122</text>
<text x="870.0" y="288.6" class="k" text-anchor="middle">-120</text>
<text x="904.3" y="288.6" class="k" text-anchor="middle">-118</text>
<text x="938.7" y="288.6" class="k" text-anchor="middle">-116</text>
<text x="973.1" y="288.6" class="k" text-anchor="middle">-114</text>
<text transform="translate(778.1 230.9) rotate(-90)" class="k" text-anchor="middle">34</text>
<text transform="translate(778.1 187.8) rotate(-90)" class="k" text-anchor="middle">36</text>
<text transform="translate(778.1 144.6) rotate(-90)" class="k" text-anchor="middle">38</text>
<text transform="translate(778.1 101.5) rotate(-90)" class="k" text-anchor="middle">40</text>
<text transform="translate(778.1 58.4) rotate(-90)" class="k" text-anchor="middle">42</text>
<text x="875.3" y="89.9" font-size="16" fill="#111" class="pl" clip-path="url(#b6)">(2.) RCP 8.5</text>
</g>
<g font-size="10.63" fill="#262626">
<rect x="581.2" y="303.5" width="178.8" height="206.2" fill="#d3d3d3"/>
<mask id="m7" maskUnits="userSpaceOnUse" x="581.2" y="303.5" width="178.8" height="206.2"><path d="M586.5 304.4L586.7 308.7L588.4 313.0L589.6 318.4L588.4 323.8L587.4 327.0L585.9 332.4L583.3 337.3L584.3 342.1L589.3 346.8L592.1 351.7L594.2 358.2L594.7 363.6L595.5 370.0L600.3 375.4L605.4 381.4L607.8 385.1L607.3 389.8L610.5 390.7L615.1 392.6L615.6 395.2L615.2 401.2L617.3 407.7L620.7 412.0L624.1 412.9L627.5 415.9L626.3 420.2L624.6 421.7L625.8 427.1L630.9 433.5L636.0 440.4L641.1 445.4L643.3 447.1L642.8 449.7L645.8 451.4L647.5 452.9L646.7 457.2L647.4 461.1L647.0 464.3L650.1 466.9L658.1 466.7L663.2 468.0L667.4 468.8L670.5 471.2L673.4 474.4L678.4 476.6L683.0 475.9L684.9 479.8L685.2 482.2L688.6 481.7L692.9 484.7L697.1 488.2L702.6 494.4L704.4 499.2L705.6 502.8L706.0 505.2L707.7 507.5L751.5 503.0L751.5 498.1L747.6 493.8L747.9 489.3L750.8 483.4L751.5 476.6L757.8 470.1L754.4 466.7L752.2 461.3L749.5 454.6L689.2 396.9L658.1 369.0L658.1 304.4Z" fill="#fff" stroke="#fff" stroke-width="2.4" stroke-linejoin="round"/></mask>
<g mask="url(#m7)" shape-rendering="crispEdges">
<path fill="#f6f6f6" d="M581.6 304.4h17.3v11.1h-17.3zM598.6 315.2h8.8v11.1h-8.8zM615.6 315.2h8.8v11.1h-8.8zM615.6 325.9h17.3v11.1h-17.3zM581.6 336.7h8.8v11.1h-8.8zM615.6 336.7h8.8v11.1h-8.8zM615.6 347.4h25.8v11.1h-25.8zM590.1 358.2h51.3v11.1h-51.3zM590.1 369.0h17.3v11.1h-17.3zM615.6 369.0h8.8v11.1h-8.8zM632.6 369.0h17.3v11.1h-17.3zM598.6 379.7h34.3v11.1h-34.3zM607.1 390.5h25.8v11.1h-25.8zM607.1 401.2h17.3v11.1h-17.3zM692.0 401.2h17.3v11.1h-17.3zM658.1 412.0h8.8v11.1h-8.8zM692.0 412.0h25.8v11.1h-25.8zM641.1 422.8h8.8v11.1h-8.8zM666.6 422.8h8.8v11.1h-8.8zM700.5 422.8h25.8v11.1h-25.8zM658.1 433.5h17.3v11.1h-17.3zM692.0 433.5h51.3v11.1h-51.3zM666.6 444.3h17.3v11.1h-17.3zM692.0 444.3h59.8v11.1h-59.8zM700.5 455.0h59.8v11.1h-59.8zM717.5 465.8h42.8v11.1h-42.8zM700.5 476.6h59.8v11.1h-59.8zM692.0 487.3h34.3v11.1h-34.3zM734.5 487.3h25.8v11.1h-25.8zM683.5 498.1h76.8v11.1h-76.8z"/>
<path fill="#fddac6" d="M598.6 304.4h8.8v11.1h-8.8zM581.6 315.2h17.3v11.1h-17.3zM607.1 315.2h8.8v11.1h-8.8zM581.6 325.9h34.3v11.1h-34.3zM590.1 336.7h8.8v11.1h-8.8zM607.1 336.7h8.8v11.1h-8.8zM624.1 336.7h8.8v11.1h-8.8zM581.6 347.4h25.8v11.1h-25.8zM641.1 358.2h8.8v11.1h-8.8zM624.1 369.0h8.8v11.1h-8.8zM632.6 379.7h25.8v11.1h-25.8zM632.6 390.5h25.8v11.1h-25.8zM624.1 401.2h51.3v11.1h-51.3zM683.5 401.2h8.8v11.1h-8.8zM615.6 412.0h42.8v11.1h-42.8zM666.6 412.0h8.8v11.1h-8.8zM683.5 412.0h8.8v11.1h-8.8zM615.6 422.8h25.8v11.1h-25.8zM649.6 422.8h17.3v11.1h-17.3zM692.0 422.8h8.8v11.1h-8.8zM624.1 433.5h34.3v11.1h-34.3zM675.0 433.5h17.3v11.1h-17.3zM624.1 444.3h42.8v11.1h-42.8zM683.5 444.3h8.8v11.1h-8.8zM632.6 455.0h68.3v11.1h-68.3zM632.6 465.8h85.3v11.1h-85.3zM641.1 476.6h59.8v11.1h-59.8zM675.0 487.3h17.3v11.1h-17.3z"/>
<path fill="#f5a283" d="M607.1 304.4h17.3v11.1h-17.3zM649.6 304.4h8.8v11.1h-8.8zM624.1 315.2h17.3v11.1h-17.3zM598.6 336.7h8.8v11.1h-8.8zM632.6 336.7h17.3v11.1h-17.3zM658.1 390.5h8.8v11.1h-8.8zM683.5 390.5h17.3v11.1h-17.3zM675.0 422.8h17.3v11.1h-17.3z"/>
<path fill="#c60030" d="M624.1 304.4h8.8v11.1h-8.8zM641.1 304.4h8.8v11.1h-8.8zM649.6 347.4h8.8v11.1h-8.8zM649.6 369.0h8.8v11.1h-8.8zM675.0 390.5h8.8v11.1h-8.8z"/>
<path fill="#e1554f" d="M632.6 304.4h8.8v11.1h-8.8zM641.1 315.2h17.3v11.1h-17.3zM632.6 325.9h25.8v11.1h-25.8zM649.6 336.7h8.8v11.1h-8.8zM641.1 347.4h8.8v11.1h-8.8zM675.0 401.2h8.8v11.1h-8.8zM675.0 412.0h8.8v11.1h-8.8z"/>
<path fill="#d3e6f1" d="M607.1 347.4h8.8v11.1h-8.8zM607.1 369.0h8.8v11.1h-8.8z"/>
<path fill="#6e0023" d="M649.6 358.2h8.8v11.1h-8.8zM658.1 369.0h17.3v11.1h-17.3zM658.1 379.7h25.8v11.1h-25.8zM666.6 390.5h8.8v11.1h-8.8z"/>
<path fill="#cdcdcd" d="M726.0 487.3h8.8v11.1h-8.8z"/>
</g>
<g shape-rendering="crispEdges">
<path fill="#f6f6f6" d="M590.1 304.4h4.4v5.6h-4.4zM594.3 304.4h4.4v5.6h-4.4zM590.1 309.8h4.4v5.6h-4.4zM581.6 336.7h4.4v5.6h-4.4zM585.9 336.7h4.4v5.6h-4.4zM585.9 342.1h4.4v5.6h-4.4zM598.6 369.0h4.4v5.6h-4.4zM598.6 374.3h4.4v5.6h-4.4zM602.8 374.3h4.4v5.6h-4.4zM607.1 379.7h4.4v5.6h-4.4zM607.1 385.1h4.4v5.6h-4.4zM611.3 385.1h4.4v5.6h-4.4zM615.6 390.5h4.4v5.6h-4.4zM615.6 395.9h4.4v5.6h-4.4zM615.6 401.2h4.4v5.6h-4.4zM615.6 406.6h4.4v5.6h-4.4zM619.8 406.6h4.4v5.6h-4.4zM692.0 401.2h4.4v5.6h-4.4zM692.0 406.6h4.4v5.6h-4.4zM696.3 406.6h4.4v5.6h-4.4zM700.5 412.0h4.4v5.6h-4.4zM704.8 412.0h4.4v5.6h-4.4zM704.8 417.4h4.4v5.6h-4.4zM709.0 422.8h4.4v5.6h-4.4zM713.3 422.8h4.4v5.6h-4.4zM721.8 433.5h4.4v5.6h-4.4zM726.0 433.5h4.4v5.6h-4.4zM726.0 438.9h4.4v5.6h-4.4zM730.3 438.9h4.4v5.6h-4.4zM734.5 444.3h4.4v5.6h-4.4zM738.8 444.3h4.4v5.6h-4.4zM738.8 449.7h4.4v5.6h-4.4zM743.0 455.0h4.4v5.6h-4.4zM747.3 455.0h4.4v5.6h-4.4zM747.3 460.4h4.4v5.6h-4.4zM747.3 465.8h4.4v5.6h-4.4zM747.3 471.2h4.4v5.6h-4.4zM751.5 465.8h4.4v5.6h-4.4zM755.8 465.8h4.4v5.6h-4.4zM751.5 471.2h4.4v5.6h-4.4zM747.3 476.6h4.4v5.6h-4.4zM743.0 481.9h4.4v5.6h-4.4zM747.3 481.9h4.4v5.6h-4.4zM696.3 487.3h4.4v5.6h-4.4zM700.5 487.3h4.4v5.6h-4.4zM700.5 492.7h4.4v5.6h-4.4zM704.8 492.7h4.4v5.6h-4.4zM743.0 487.3h4.4v5.6h-4.4zM743.0 492.7h4.4v5.6h-4.4zM747.3 492.7h4.4v5.6h-4.4zM704.8 498.1h4.4v5.6h-4.4zM704.8 503.5h4.4v5.6h-4.4zM709.0 503.5h4.4v5.6h-4.4zM713.3 503.5h4.4v5.6h-4.4zM721.8 498.1h4.4v5.6h-4.4zM717.5 503.5h4.4v5.6h-4.4zM721.8 503.5h4.4v5.6h-4.4zM726.0 498.1h4.4v5.6h-4.4zM730.3 498.1h4.4v5.6h-4.4zM726.0 503.5h4.4v5.6h-4.4zM730.3 503.5h4.4v5.6h-4.4zM734.5 498.1h4.4v5.6h-4.4zM738.8 498.1h4.4v5.6h-4.4zM734.5 503.5h4.4v5.6h-4.4zM738.8 503.5h4.4v5.6h-4.4zM743.0 498.1h4.4v5.6h-4.4zM747.3 498.1h4.4v5.6h-4.4zM743.0 503.5h4.4v5.6h-4.4zM747.3 503.5h4.4v5.6h-4.4z"/>
<path fill="#fddac6" d="M598.6 304.4h4.4v5.6h-4.4zM602.8 304.4h4.4v5.6h-4.4zM590.1 315.2h4.4v5.6h-4.4zM590.1 320.5h4.4v5.6h-4.4zM585.9 325.9h4.4v5.6h-4.4zM581.6 331.3h4.4v5.6h-4.4zM585.9 331.3h4.4v5.6h-4.4zM590.1 325.9h4.4v5.6h-4.4zM590.1 342.1h4.4v5.6h-4.4zM590.1 347.4h4.4v5.6h-4.4zM594.3 347.4h4.4v5.6h-4.4zM590.1 352.8h4.4v5.6h-4.4zM594.3 352.8h4.4v5.6h-4.4zM624.1 406.6h4.4v5.6h-4.4zM687.8 401.2h4.4v5.6h-4.4zM624.1 412.0h4.4v5.6h-4.4zM628.3 412.0h4.4v5.6h-4.4zM624.1 417.4h4.4v5.6h-4.4zM628.3 417.4h4.4v5.6h-4.4zM624.1 422.8h4.4v5.6h-4.4zM628.3 422.8h4.4v5.6h-4.4zM628.3 428.1h4.4v5.6h-4.4zM632.6 428.1h4.4v5.6h-4.4zM632.6 433.5h4.4v5.6h-4.4zM636.8 433.5h4.4v5.6h-4.4zM636.8 438.9h4.4v5.6h-4.4zM641.1 438.9h4.4v5.6h-4.4zM641.1 444.3h4.4v5.6h-4.4zM645.3 444.3h4.4v5.6h-4.4zM645.3 449.7h4.4v5.6h-4.4zM649.6 449.7h4.4v5.6h-4.4zM645.3 455.0h4.4v5.6h-4.4zM645.3 460.4h4.4v5.6h-4.4zM649.6 455.0h4.4v5.6h-4.4zM649.6 460.4h4.4v5.6h-4.4zM653.8 460.4h4.4v5.6h-4.4zM658.1 460.4h4.4v5.6h-4.4zM662.3 460.4h4.4v5.6h-4.4zM658.1 465.8h4.4v5.6h-4.4zM662.3 465.8h4.4v5.6h-4.4zM666.6 465.8h4.4v5.6h-4.4zM670.8 465.8h4.4v5.6h-4.4zM670.8 471.2h4.4v5.6h-4.4zM675.0 471.2h4.4v5.6h-4.4zM679.3 471.2h4.4v5.6h-4.4zM683.5 471.2h4.4v5.6h-4.4zM683.5 476.6h4.4v5.6h-4.4zM687.8 476.6h4.4v5.6h-4.4zM692.0 476.6h4.4v5.6h-4.4zM692.0 481.9h4.4v5.6h-4.4zM696.3 481.9h4.4v5.6h-4.4z"/>
<path fill="#f5a283" d="M607.1 304.4h4.4v5.6h-4.4zM611.3 304.4h4.4v5.6h-4.4zM615.6 304.4h4.4v5.6h-4.4zM619.8 304.4h4.4v5.6h-4.4zM649.6 304.4h4.4v5.6h-4.4zM653.8 304.4h4.4v5.6h-4.4zM653.8 309.8h4.4v5.6h-4.4zM683.5 390.5h4.4v5.6h-4.4zM683.5 395.9h4.4v5.6h-4.4zM687.8 395.9h4.4v5.6h-4.4z"/>
<path fill="#c60030" d="M624.1 304.4h4.4v5.6h-4.4zM628.3 304.4h4.4v5.6h-4.4zM641.1 304.4h4.4v5.6h-4.4zM645.3 304.4h4.4v5.6h-4.4zM653.8 347.4h4.4v5.6h-4.4zM653.8 352.8h4.4v5.6h-4.4zM653.8 369.0h4.4v5.6h-4.4zM675.0 390.5h4.4v5.6h-4.4zM679.3 390.5h4.4v5.6h-4.4z"/>
<path fill="#e1554f" d="M632.6 304.4h4.4v5.6h-4.4zM636.8 304.4h4.4v5.6h-4.4zM653.8 315.2h4.4v5.6h-4.4zM653.8 320.5h4.4v5.6h-4.4zM653.8 325.9h4.4v5.6h-4.4zM653.8 331.3h4.4v5.6h-4.4zM653.8 336.7h4.4v5.6h-4.4zM653.8 342.1h4.4v5.6h-4.4z"/>
<path fill="#6e0023" d="M653.8 358.2h4.4v5.6h-4.4zM653.8 363.6h4.4v5.6h-4.4zM658.1 369.0h4.4v5.6h-4.4zM658.1 374.3h4.4v5.6h-4.4zM662.3 374.3h4.4v5.6h-4.4zM666.6 379.7h4.4v5.6h-4.4zM670.8 379.7h4.4v5.6h-4.4zM670.8 385.1h4.4v5.6h-4.4z"/>
</g>
<path d="M590.1 303.5V509.7M624.1 303.5V509.7M658.1 303.5V509.7M692.0 303.5V509.7M726.0 303.5V509.7M581.2 476.6H760.0M581.2 433.5H760.0M581.2 390.5H760.0M581.2 347.4H760.0" stroke="#909090" stroke-opacity="0.42" stroke-width="0.8" fill="none"/>
<path d="M586.5 304.4L586.7 308.7L588.4 313.0L589.6 318.4L588.4 323.8L587.4 327.0L585.9 332.4L583.3 337.3L584.3 342.1L589.3 346.8L592.1 351.7L594.2 358.2L594.7 363.6L595.5 370.0L600.3 375.4L605.4 381.4L607.8 385.1L607.3 389.8L610.5 390.7L615.1 392.6L615.6 395.2L615.2 401.2L617.3 407.7L620.7 412.0L624.1 412.9L627.5 415.9L626.3 420.2L624.6 421.7L625.8 427.1L630.9 433.5L636.0 440.4L641.1 445.4L643.3 447.1L642.8 449.7L645.8 451.4L647.5 452.9L646.7 457.2L647.4 461.1L647.0 464.3L650.1 466.9L658.1 466.7L663.2 468.0L667.4 468.8L670.5 471.2L673.4 474.4L678.4 476.6L683.0 475.9L684.9 479.8L685.2 482.2L688.6 481.7L692.9 484.7L697.1 488.2L702.6 494.4L704.4 499.2L705.6 502.8L706.0 505.2L707.7 507.5L751.5 503.0L751.5 498.1L747.6 493.8L747.9 489.3L750.8 483.4L751.5 476.6L757.8 470.1L754.4 466.7L752.2 461.3L749.5 454.6L689.2 396.9L658.1 369.0" stroke="#0d0d0d" stroke-width="2.25" fill="none" stroke-linejoin="round" stroke-linecap="round"/>
<path d="M658.1 369.0L658.1 304.4L586.5 304.4" stroke="#333" stroke-width="1.6" fill="none" stroke-linejoin="miter"/>
<path d="M615.6 393.5L616.9 390.9L615.9 387.9L618.0 386.8L619.5 388.3L622.0 389.2L619.0 390.5L618.5 392.6L619.8 395.2L622.4 399.1L624.6 401.9L622.0 401.2L619.0 398.0L617.6 394.8L615.6 393.5" stroke="#111" stroke-width="2" fill="none" stroke-linejoin="round"/>
<rect x="581.2" y="303.5" width="178.8" height="206.2" fill="none" stroke="#707070" stroke-width="1"/>
<path d="M590.1 509.7v6.5M624.1 509.7v6.5M658.1 509.7v6.5M692.0 509.7v6.5M726.0 509.7v6.5M760.0 509.7v6.5M581.2 476.6h-6.5M581.2 433.5h-6.5M581.2 390.5h-6.5M581.2 347.4h-6.5M581.2 304.4h-6.5" stroke="#707070" stroke-width="1" fill="none"/>
<clipPath id="c7"><rect x="0" y="0" width="764.7" height="565"/></clipPath>
<clipPath id="b7"><rect x="581.2" y="303.5" width="178.8" height="206.2"/></clipPath>
<text x="590.3" y="532.9" class="k" text-anchor="middle" clip-path="url(#c7)">-124</text>
<text x="624.3" y="532.9" class="k" text-anchor="middle" clip-path="url(#c7)">-122</text>
<text x="658.3" y="532.9" class="k" text-anchor="middle" clip-path="url(#c7)">-120</text>
<text x="692.2" y="532.9" class="k" text-anchor="middle" clip-path="url(#c7)">-118</text>
<text x="726.2" y="532.9" class="k" text-anchor="middle" clip-path="url(#c7)">-116</text>
<text x="760.2" y="532.9" class="k" text-anchor="middle" clip-path="url(#c7)">-114</text>
<text transform="translate(566.9 476.6) rotate(-90)" class="k" text-anchor="middle">34</text>
<text transform="translate(566.9 433.5) rotate(-90)" class="k" text-anchor="middle">36</text>
<text transform="translate(566.9 390.5) rotate(-90)" class="k" text-anchor="middle">38</text>
<text transform="translate(566.9 347.4) rotate(-90)" class="k" text-anchor="middle">40</text>
<text transform="translate(566.9 304.4) rotate(-90)" class="k" text-anchor="middle">42</text>
<text x="663.9" y="329.9" font-size="16" fill="#111" class="pl" clip-path="url(#b7)">(3.) Cycl. drt.</text>
</g>
<g font-size="10.76" fill="#262626">
<rect x="793.4" y="304.8" width="181.2" height="206.7" fill="#d3d3d3"/>
<mask id="m8" maskUnits="userSpaceOnUse" x="793.4" y="304.8" width="181.2" height="206.7"><path d="M799.0 305.6L799.2 309.9L800.9 314.2L802.1 319.6L800.9 325.0L799.8 328.3L798.3 333.7L795.7 338.6L796.8 343.4L801.7 348.2L804.7 353.1L806.7 359.6L807.2 365.0L808.1 371.5L812.9 376.9L818.1 382.9L820.5 386.6L820.0 391.4L823.2 392.2L827.9 394.2L828.4 396.8L828.1 402.8L830.1 409.3L833.6 413.6L837.0 414.5L840.4 417.5L839.2 421.8L837.5 423.3L838.7 428.7L843.9 435.2L849.0 442.1L854.2 447.1L856.4 448.8L855.9 451.4L859.0 453.1L860.7 454.6L859.9 459.0L860.6 462.8L860.2 466.1L863.3 468.7L871.4 468.5L876.6 469.8L880.9 470.6L884.0 473.0L886.9 476.2L892.0 478.4L896.7 477.8L898.6 481.6L898.9 484.0L902.4 483.6L906.7 486.6L911.0 490.1L916.5 496.3L918.4 501.1L919.6 504.8L919.9 507.1L921.6 509.5L966.0 505.0L966.0 500.0L962.0 495.7L962.4 491.1L965.3 485.3L966.0 478.4L972.4 471.9L968.9 468.5L966.7 463.1L963.9 456.4L902.9 398.5L871.4 370.4L871.4 305.6Z" fill="#fff" stroke="#fff" stroke-width="2.4" stroke-linejoin="round"/></mask>
<g mask="url(#m8)" shape-rendering="crispEdges">
<path fill="#fddac6" d="M794.0 305.6h17.5v11.1h-17.5zM819.8 305.6h8.9v11.1h-8.9zM794.0 327.2h17.5v11.1h-17.5zM819.8 338.0h8.9v11.1h-8.9zM837.0 338.0h8.9v11.1h-8.9zM837.0 348.8h17.5v11.1h-17.5zM828.4 359.6h8.9v11.1h-8.9zM854.2 359.6h8.9v11.1h-8.9zM837.0 381.2h34.7v11.1h-34.7zM845.6 392.0h26.1v11.1h-26.1zM845.6 402.8h26.1v11.1h-26.1zM880.0 402.8h8.9v11.1h-8.9zM828.4 413.6h34.7v11.1h-34.7zM880.0 413.6h8.9v11.1h-8.9zM828.4 424.4h43.3v11.1h-43.3zM905.8 424.4h8.9v11.1h-8.9zM854.2 435.2h17.5v11.1h-17.5zM888.6 435.2h17.5v11.1h-17.5zM837.0 446.0h43.3v11.1h-43.3zM897.2 446.0h8.9v11.1h-8.9zM845.6 456.8h51.9v11.1h-51.9zM905.8 456.8h8.9v11.1h-8.9zM845.6 467.6h86.3v11.1h-86.3zM854.2 478.4h60.5v11.1h-60.5zM923.0 478.4h8.9v11.1h-8.9zM888.6 489.2h17.5v11.1h-17.5z"/>
<path fill="#f6f6f6" d="M811.2 305.6h8.9v11.1h-8.9zM811.2 316.4h8.9v11.1h-8.9zM828.4 316.4h8.9v11.1h-8.9zM819.8 327.2h26.1v11.1h-26.1zM794.0 338.0h8.9v11.1h-8.9zM828.4 338.0h8.9v11.1h-8.9zM819.8 348.8h17.5v11.1h-17.5zM802.6 359.6h26.1v11.1h-26.1zM837.0 359.6h17.5v11.1h-17.5zM802.6 370.4h51.9v11.1h-51.9zM811.2 381.2h26.1v11.1h-26.1zM819.8 392.0h26.1v11.1h-26.1zM819.8 402.8h26.1v11.1h-26.1zM871.4 402.8h8.9v11.1h-8.9zM905.8 402.8h17.5v11.1h-17.5zM862.8 413.6h17.5v11.1h-17.5zM905.8 413.6h26.1v11.1h-26.1zM871.4 424.4h17.5v11.1h-17.5zM914.4 424.4h26.1v11.1h-26.1zM837.0 435.2h17.5v11.1h-17.5zM871.4 435.2h17.5v11.1h-17.5zM905.8 435.2h51.9v11.1h-51.9zM880.0 446.0h17.5v11.1h-17.5zM905.8 446.0h60.5v11.1h-60.5zM897.2 456.8h8.9v11.1h-8.9zM914.4 456.8h60.5v11.1h-60.5zM931.6 467.6h43.3v11.1h-43.3zM914.4 478.4h8.9v11.1h-8.9zM931.6 478.4h43.3v11.1h-43.3zM905.8 489.2h34.7v11.1h-34.7zM948.8 489.2h26.1v11.1h-26.1zM897.2 500.0h77.7v11.1h-77.7z"/>
<path fill="#f5a283" d="M828.4 305.6h8.9v11.1h-8.9zM794.0 316.4h17.5v11.1h-17.5zM819.8 316.4h8.9v11.1h-8.9zM837.0 316.4h17.5v11.1h-17.5zM811.2 327.2h8.9v11.1h-8.9zM802.6 338.0h17.5v11.1h-17.5zM845.6 338.0h17.5v11.1h-17.5zM794.0 348.8h26.1v11.1h-26.1zM871.4 392.0h8.9v11.1h-8.9zM897.2 402.8h8.9v11.1h-8.9zM888.6 424.4h8.9v11.1h-8.9z"/>
<path fill="#c60030" d="M837.0 305.6h26.1v11.1h-26.1zM854.2 316.4h17.5v11.1h-17.5zM854.2 348.8h17.5v11.1h-17.5zM862.8 370.4h8.9v11.1h-8.9zM888.6 413.6h8.9v11.1h-8.9z"/>
<path fill="#e1554f" d="M862.8 305.6h8.9v11.1h-8.9zM845.6 327.2h26.1v11.1h-26.1zM862.8 338.0h8.9v11.1h-8.9zM897.2 392.0h17.5v11.1h-17.5zM888.6 402.8h8.9v11.1h-8.9zM897.2 413.6h8.9v11.1h-8.9zM897.2 424.4h8.9v11.1h-8.9z"/>
<path fill="#6e0023" d="M862.8 359.6h8.9v11.1h-8.9zM871.4 370.4h17.5v11.1h-17.5zM871.4 381.2h26.1v11.1h-26.1zM880.0 392.0h17.5v11.1h-17.5z"/>
<path fill="#d3e6f1" d="M854.2 370.4h8.9v11.1h-8.9z"/>
<path fill="#cdcdcd" d="M940.2 489.2h8.9v11.1h-8.9z"/>
</g>
<g shape-rendering="crispEdges">
<path fill="#fddac6" d="M802.6 305.6h4.5v5.6h-4.5zM806.9 305.6h4.5v5.6h-4.5zM802.6 311.0h4.5v5.6h-4.5zM819.8 305.6h4.5v5.6h-4.5zM824.1 305.6h4.5v5.6h-4.5zM798.3 327.2h4.5v5.6h-4.5zM794.0 332.6h4.5v5.6h-4.5zM798.3 332.6h4.5v5.6h-4.5zM802.6 327.2h4.5v5.6h-4.5zM837.0 413.6h4.5v5.6h-4.5zM841.3 413.6h4.5v5.6h-4.5zM837.0 419.0h4.5v5.6h-4.5zM841.3 419.0h4.5v5.6h-4.5zM837.0 424.4h4.5v5.6h-4.5zM841.3 424.4h4.5v5.6h-4.5zM841.3 429.8h4.5v5.6h-4.5zM845.6 429.8h4.5v5.6h-4.5zM854.2 440.6h4.5v5.6h-4.5zM854.2 446.0h4.5v5.6h-4.5zM858.5 446.0h4.5v5.6h-4.5zM858.5 451.4h4.5v5.6h-4.5zM862.8 451.4h4.5v5.6h-4.5zM858.5 456.8h4.5v5.6h-4.5zM858.5 462.2h4.5v5.6h-4.5zM862.8 456.8h4.5v5.6h-4.5zM862.8 462.2h4.5v5.6h-4.5zM867.1 462.2h4.5v5.6h-4.5zM871.4 462.2h4.5v5.6h-4.5zM875.7 462.2h4.5v5.6h-4.5zM871.4 467.6h4.5v5.6h-4.5zM875.7 467.6h4.5v5.6h-4.5zM880.0 467.6h4.5v5.6h-4.5zM884.3 467.6h4.5v5.6h-4.5zM884.3 473.0h4.5v5.6h-4.5zM888.6 473.0h4.5v5.6h-4.5zM892.9 473.0h4.5v5.6h-4.5zM897.2 473.0h4.5v5.6h-4.5zM897.2 478.4h4.5v5.6h-4.5zM901.5 478.4h4.5v5.6h-4.5zM905.8 478.4h4.5v5.6h-4.5zM905.8 483.8h4.5v5.6h-4.5zM910.1 483.8h4.5v5.6h-4.5z"/>
<path fill="#f6f6f6" d="M811.2 305.6h4.5v5.6h-4.5zM815.5 305.6h4.5v5.6h-4.5zM794.0 338.0h4.5v5.6h-4.5zM798.3 338.0h4.5v5.6h-4.5zM798.3 343.4h4.5v5.6h-4.5zM811.2 370.4h4.5v5.6h-4.5zM811.2 375.8h4.5v5.6h-4.5zM815.5 375.8h4.5v5.6h-4.5zM819.8 381.2h4.5v5.6h-4.5zM819.8 386.6h4.5v5.6h-4.5zM824.1 386.6h4.5v5.6h-4.5zM828.4 392.0h4.5v5.6h-4.5zM828.4 397.4h4.5v5.6h-4.5zM828.4 402.8h4.5v5.6h-4.5zM828.4 408.2h4.5v5.6h-4.5zM832.7 408.2h4.5v5.6h-4.5zM837.0 408.2h4.5v5.6h-4.5zM905.8 402.8h4.5v5.6h-4.5zM910.1 408.2h4.5v5.6h-4.5zM914.4 413.6h4.5v5.6h-4.5zM918.7 413.6h4.5v5.6h-4.5zM918.7 419.0h4.5v5.6h-4.5zM923.0 424.4h4.5v5.6h-4.5zM927.3 424.4h4.5v5.6h-4.5zM845.6 435.2h4.5v5.6h-4.5zM849.9 435.2h4.5v5.6h-4.5zM849.9 440.6h4.5v5.6h-4.5zM935.9 435.2h4.5v5.6h-4.5zM940.2 435.2h4.5v5.6h-4.5zM940.2 440.6h4.5v5.6h-4.5zM944.5 440.6h4.5v5.6h-4.5zM948.8 446.0h4.5v5.6h-4.5zM953.1 446.0h4.5v5.6h-4.5zM953.1 451.4h4.5v5.6h-4.5zM957.4 456.8h4.5v5.6h-4.5zM961.7 456.8h4.5v5.6h-4.5zM961.7 462.2h4.5v5.6h-4.5zM961.7 467.6h4.5v5.6h-4.5zM961.7 473.0h4.5v5.6h-4.5zM966.0 467.6h4.5v5.6h-4.5zM970.3 467.6h4.5v5.6h-4.5zM966.0 473.0h4.5v5.6h-4.5zM961.7 478.4h4.5v5.6h-4.5zM957.4 483.8h4.5v5.6h-4.5zM961.7 483.8h4.5v5.6h-4.5zM910.1 489.2h4.5v5.6h-4.5zM914.4 489.2h4.5v5.6h-4.5zM914.4 494.6h4.5v5.6h-4.5zM918.7 494.6h4.5v5.6h-4.5zM957.4 489.2h4.5v5.6h-4.5zM957.4 494.6h4.5v5.6h-4.5zM961.7 494.6h4.5v5.6h-4.5zM918.7 500.0h4.5v5.6h-4.5zM918.7 505.4h4.5v5.6h-4.5zM923.0 505.4h4.5v5.6h-4.5zM927.3 505.4h4.5v5.6h-4.5zM935.9 500.0h4.5v5.6h-4.5zM931.6 505.4h4.5v5.6h-4.5zM935.9 505.4h4.5v5.6h-4.5zM940.2 500.0h4.5v5.6h-4.5zM944.5 500.0h4.5v5.6h-4.5zM940.2 505.4h4.5v5.6h-4.5zM944.5 505.4h4.5v5.6h-4.5zM948.8 500.0h4.5v5.6h-4.5zM953.1 500.0h4.5v5.6h-4.5zM948.8 505.4h4.5v5.6h-4.5zM953.1 505.4h4.5v5.6h-4.5zM957.4 500.0h4.5v5.6h-4.5zM961.7 500.0h4.5v5.6h-4.5zM957.4 505.4h4.5v5.6h-4.5zM961.7 505.4h4.5v5.6h-4.5z"/>
<path fill="#f5a283" d="M828.4 305.6h4.5v5.6h-4.5zM832.7 305.6h4.5v5.6h-4.5zM802.6 316.4h4.5v5.6h-4.5zM802.6 321.8h4.5v5.6h-4.5zM802.6 343.4h4.5v5.6h-4.5zM802.6 348.8h4.5v5.6h-4.5zM806.9 348.8h4.5v5.6h-4.5zM802.6 354.2h4.5v5.6h-4.5zM806.9 354.2h4.5v5.6h-4.5zM901.5 402.8h4.5v5.6h-4.5z"/>
<path fill="#c60030" d="M837.0 305.6h4.5v5.6h-4.5zM841.3 305.6h4.5v5.6h-4.5zM845.6 305.6h4.5v5.6h-4.5zM849.9 305.6h4.5v5.6h-4.5zM854.2 305.6h4.5v5.6h-4.5zM858.5 305.6h4.5v5.6h-4.5zM867.1 316.4h4.5v5.6h-4.5zM867.1 321.8h4.5v5.6h-4.5zM867.1 348.8h4.5v5.6h-4.5zM867.1 354.2h4.5v5.6h-4.5zM867.1 370.4h4.5v5.6h-4.5z"/>
<path fill="#e1554f" d="M862.8 305.6h4.5v5.6h-4.5zM867.1 305.6h4.5v5.6h-4.5zM867.1 311.0h4.5v5.6h-4.5zM867.1 327.2h4.5v5.6h-4.5zM867.1 332.6h4.5v5.6h-4.5zM867.1 338.0h4.5v5.6h-4.5zM867.1 343.4h4.5v5.6h-4.5zM897.2 392.0h4.5v5.6h-4.5zM897.2 397.4h4.5v5.6h-4.5zM901.5 397.4h4.5v5.6h-4.5z"/>
<path fill="#6e0023" d="M867.1 359.6h4.5v5.6h-4.5zM867.1 365.0h4.5v5.6h-4.5zM871.4 370.4h4.5v5.6h-4.5zM871.4 375.8h4.5v5.6h-4.5zM875.7 375.8h4.5v5.6h-4.5zM880.0 381.2h4.5v5.6h-4.5zM884.3 381.2h4.5v5.6h-4.5zM884.3 386.6h4.5v5.6h-4.5zM888.6 392.0h4.5v5.6h-4.5zM892.9 392.0h4.5v5.6h-4.5z"/>
</g>
<path d="M802.6 304.8V511.5M837.0 304.8V511.5M871.4 304.8V511.5M905.8 304.8V511.5M940.2 304.8V511.5M793.4 478.4H974.6M793.4 435.2H974.6M793.4 392.0H974.6M793.4 348.8H974.6" stroke="#909090" stroke-opacity="0.42" stroke-width="0.8" fill="none"/>
<path d="M799.0 305.6L799.2 309.9L800.9 314.2L802.1 319.6L800.9 325.0L799.8 328.3L798.3 333.7L795.7 338.6L796.8 343.4L801.7 348.2L804.7 353.1L806.7 359.6L807.2 365.0L808.1 371.5L812.9 376.9L818.1 382.9L820.5 386.6L820.0 391.4L823.2 392.2L827.9 394.2L828.4 396.8L828.1 402.8L830.1 409.3L833.6 413.6L837.0 414.5L840.4 417.5L839.2 421.8L837.5 423.3L838.7 428.7L843.9 435.2L849.0 442.1L854.2 447.1L856.4 448.8L855.9 451.4L859.0 453.1L860.7 454.6L859.9 459.0L860.6 462.8L860.2 466.1L863.3 468.7L871.4 468.5L876.6 469.8L880.9 470.6L884.0 473.0L886.9 476.2L892.0 478.4L896.7 477.8L898.6 481.6L898.9 484.0L902.4 483.6L906.7 486.6L911.0 490.1L916.5 496.3L918.4 501.1L919.6 504.8L919.9 507.1L921.6 509.5L966.0 505.0L966.0 500.0L962.0 495.7L962.4 491.1L965.3 485.3L966.0 478.4L972.4 471.9L968.9 468.5L966.7 463.1L963.9 456.4L902.9 398.5L871.4 370.4" stroke="#0d0d0d" stroke-width="2.25" fill="none" stroke-linejoin="round" stroke-linecap="round"/>
<path d="M871.4 370.4L871.4 305.6L799.0 305.6" stroke="#333" stroke-width="1.6" fill="none" stroke-linejoin="miter"/>
<path d="M828.4 395.0L829.8 392.4L828.7 389.4L830.8 388.3L832.4 389.8L834.9 390.7L831.8 392.0L831.3 394.2L832.7 396.8L835.3 400.6L837.5 403.4L834.9 402.8L831.8 399.6L830.5 396.3L828.4 395.0" stroke="#111" stroke-width="2" fill="none" stroke-linejoin="round"/>
<rect x="793.4" y="304.8" width="181.2" height="206.7" fill="none" stroke="#707070" stroke-width="1"/>
<path d="M802.6 511.5v6.5M837.0 511.5v6.5M871.4 511.5v6.5M905.8 511.5v6.5M940.2 511.5v6.5M974.6 511.5v6.5M793.4 478.4h-6.5M793.4 435.2h-6.5M793.4 392.0h-6.5M793.4 348.8h-6.5M793.4 305.6h-6.5" stroke="#707070" stroke-width="1" fill="none"/>
<clipPath id="b8"><rect x="793.4" y="304.8" width="181.2" height="206.7"/></clipPath>
<text x="802.8" y="536.4" class="k" text-anchor="middle">-124</text>
<text x="837.2" y="536.4" class="k" text-anchor="middle">-122</text>
<text x="871.6" y="536.4" class="k" text-anchor="middle">-120</text>
<text x="906.0" y="536.4" class="k" text-anchor="middle">-118</text>
<text x="940.4" y="536.4" class="k" text-anchor="middle">-116</text>
<text x="974.8" y="536.4" class="k" text-anchor="middle">-114</text>
<text transform="translate(779.1 478.4) rotate(-90)" class="k" text-anchor="middle">34</text>
<text transform="translate(779.1 435.2) rotate(-90)" class="k" text-anchor="middle">36</text>
<text transform="translate(779.1 392.0) rotate(-90)" class="k" text-anchor="middle">38</text>
<text transform="translate(779.1 348.8) rotate(-90)" class="k" text-anchor="middle">40</text>
<text transform="translate(779.1 305.6) rotate(-90)" class="k" text-anchor="middle">42</text>
<text x="876.3" y="332.2" font-size="16" fill="#111" class="pl" clip-path="url(#b8)">(4.) Perm. drt.</text>
</g>
<rect x="474.5" y="122.8" width="11.8" height="17.7" fill="#053c6e"/>
<rect x="474.5" y="140.2" width="11.8" height="31.8" fill="#1469af"/>
<rect x="474.5" y="171.7" width="11.8" height="34.1" fill="#3291c3"/>
<rect x="474.5" y="205.5" width="11.8" height="32.8" fill="#8cc3de"/>
<rect x="474.5" y="238.0" width="11.8" height="33.1" fill="#d3e6f1"/>
<rect x="474.5" y="270.8" width="11.8" height="31.9" fill="#f6f6f6"/>
<rect x="474.5" y="302.4" width="11.8" height="32.8" fill="#fddac6"/>
<rect x="474.5" y="334.9" width="11.8" height="34.0" fill="#f5a283"/>
<rect x="474.5" y="368.6" width="11.8" height="32.4" fill="#e1554f"/>
<rect x="474.5" y="400.7" width="11.8" height="34.1" fill="#c60030"/>
<rect x="474.5" y="434.5" width="11.8" height="15.8" fill="#6e0023"/>
<path d="M487.2 146.0V427.2M487.2 146.6h13M487.2 193.0h13M487.2 239.7h13M487.2 286.5h13M487.2 333.0h13M487.2 379.7h13M487.2 426.6h13" stroke="#444" stroke-width="1.4" fill="none"/>
<text x="514.6" y="154.9" font-size="22" fill="#2a2a2a" class="cb">30</text>
<text x="514.6" y="201.3" font-size="22" fill="#2a2a2a" class="cb">20</text>
<text x="514.6" y="248.0" font-size="22" fill="#2a2a2a" class="cb">10</text>
<text x="514.6" y="294.8" font-size="22" fill="#2a2a2a" class="cb">0</text>
<text x="514.6" y="341.3" font-size="22" fill="#2a2a2a" class="cb">-10</text>
<text x="514.6" y="388.0" font-size="22" fill="#2a2a2a" class="cb">-20</text>
<text x="514.6" y="434.9" font-size="22" fill="#2a2a2a" class="cb">-30</text>
<text x="506.5" y="478.8" text-anchor="middle" font-size="15.8" fill="#111" class="pl">Units:</text>
<text x="506.7" y="497.3" text-anchor="middle" font-size="15.8" fill="#111" class="pl">%points</text>
</svg></body></html>
